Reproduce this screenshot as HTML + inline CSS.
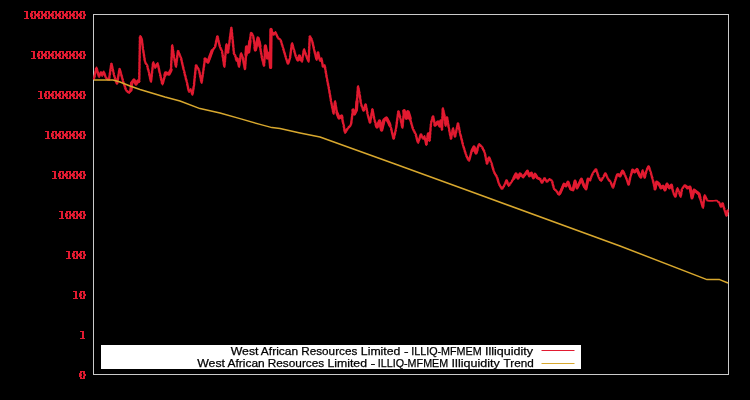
<!DOCTYPE html>
<html><head><meta charset="utf-8"><style>
html,body{margin:0;padding:0;background:#000;}
body{width:750px;height:400px;overflow:hidden;font-family:"Liberation Sans",sans-serif;}
svg{display:block}
</style></head><body>
<svg width="750" height="400" viewBox="0 0 750 400">
<defs>
<filter id="gs" x="0" y="0" width="100%" height="100%" color-interpolation-filters="sRGB"><feColorMatrix type="saturate" values="0"/></filter>
</defs>
<rect width="750" height="400" fill="#000"/>
<rect x="93.5" y="14.5" width="635" height="360" fill="none" stroke="#cacaca" stroke-width="1"/>
<g fill="#e21a30" shape-rendering="crispEdges"><path d="M32,13h1v1h-1zM34,14h1v1h-1zM34,15h1v1h-1zM32,16h1v1h-1zM39,13h1v1h-1zM41,14h1v1h-1zM41,15h1v1h-1zM39,16h1v1h-1zM46,13h1v1h-1zM48,14h1v1h-1zM48,15h1v1h-1zM46,16h1v1h-1zM53,13h1v1h-1zM55,14h1v1h-1zM55,15h1v1h-1zM53,16h1v1h-1zM60,13h1v1h-1zM62,14h1v1h-1zM62,15h1v1h-1zM60,16h1v1h-1zM67,13h1v1h-1zM69,14h1v1h-1zM69,15h1v1h-1zM67,16h1v1h-1zM74,13h1v1h-1zM76,14h1v1h-1zM76,15h1v1h-1zM74,16h1v1h-1zM81,13h1v1h-1zM83,14h1v1h-1zM83,15h1v1h-1zM81,16h1v1h-1zM39,53h1v1h-1zM41,54h1v1h-1zM41,55h1v1h-1zM39,56h1v1h-1zM46,53h1v1h-1zM48,54h1v1h-1zM48,55h1v1h-1zM46,56h1v1h-1zM53,53h1v1h-1zM55,54h1v1h-1zM55,55h1v1h-1zM53,56h1v1h-1zM60,53h1v1h-1zM62,54h1v1h-1zM62,55h1v1h-1zM60,56h1v1h-1zM67,53h1v1h-1zM69,54h1v1h-1zM69,55h1v1h-1zM67,56h1v1h-1zM74,53h1v1h-1zM76,54h1v1h-1zM76,55h1v1h-1zM74,56h1v1h-1zM81,53h1v1h-1zM83,54h1v1h-1zM83,55h1v1h-1zM81,56h1v1h-1zM46,93h1v1h-1zM48,94h1v1h-1zM48,95h1v1h-1zM46,96h1v1h-1zM53,93h1v1h-1zM55,94h1v1h-1zM55,95h1v1h-1zM53,96h1v1h-1zM60,93h1v1h-1zM62,94h1v1h-1zM62,95h1v1h-1zM60,96h1v1h-1zM67,93h1v1h-1zM69,94h1v1h-1zM69,95h1v1h-1zM67,96h1v1h-1zM74,93h1v1h-1zM76,94h1v1h-1zM76,95h1v1h-1zM74,96h1v1h-1zM81,93h1v1h-1zM83,94h1v1h-1zM83,95h1v1h-1zM81,96h1v1h-1zM53,133h1v1h-1zM55,134h1v1h-1zM55,135h1v1h-1zM53,136h1v1h-1zM60,133h1v1h-1zM62,134h1v1h-1zM62,135h1v1h-1zM60,136h1v1h-1zM67,133h1v1h-1zM69,134h1v1h-1zM69,135h1v1h-1zM67,136h1v1h-1zM74,133h1v1h-1zM76,134h1v1h-1zM76,135h1v1h-1zM74,136h1v1h-1zM81,133h1v1h-1zM83,134h1v1h-1zM83,135h1v1h-1zM81,136h1v1h-1zM60,173h1v1h-1zM62,174h1v1h-1zM62,175h1v1h-1zM60,176h1v1h-1zM67,173h1v1h-1zM69,174h1v1h-1zM69,175h1v1h-1zM67,176h1v1h-1zM74,173h1v1h-1zM76,174h1v1h-1zM76,175h1v1h-1zM74,176h1v1h-1zM81,173h1v1h-1zM83,174h1v1h-1zM83,175h1v1h-1zM81,176h1v1h-1zM67,213h1v1h-1zM69,214h1v1h-1zM69,215h1v1h-1zM67,216h1v1h-1zM74,213h1v1h-1zM76,214h1v1h-1zM76,215h1v1h-1zM74,216h1v1h-1zM81,213h1v1h-1zM83,214h1v1h-1zM83,215h1v1h-1zM81,216h1v1h-1zM74,253h1v1h-1zM76,254h1v1h-1zM76,255h1v1h-1zM74,256h1v1h-1zM81,253h1v1h-1zM83,254h1v1h-1zM83,255h1v1h-1zM81,256h1v1h-1zM81,293h1v1h-1zM83,294h1v1h-1zM83,295h1v1h-1zM81,296h1v1h-1zM81,373h1v1h-1zM83,374h1v1h-1zM83,375h1v1h-1zM81,376h1v1h-1z" fill-opacity="0.44"/><path d="M24,11h4v1h-4zM26,12h2v1h-2zM26,13h2v1h-2zM26,14h2v1h-2zM26,15h2v1h-2zM26,16h2v1h-2zM26,17h2v1h-2zM24,18h5v1h-5zM31,11h5v1h-5zM31,12h2v1h-2zM34,12h2v1h-2zM30,13h2v1h-2zM34,13h2v1h-2zM30,14h3v1h-3zM35,14h2v1h-2zM30,15h3v1h-3zM35,15h2v1h-2zM30,16h2v1h-2zM34,16h2v1h-2zM31,17h2v1h-2zM34,17h2v1h-2zM31,18h5v1h-5zM38,11h5v1h-5zM38,12h2v1h-2zM41,12h2v1h-2zM37,13h2v1h-2zM41,13h2v1h-2zM37,14h3v1h-3zM42,14h2v1h-2zM37,15h3v1h-3zM42,15h2v1h-2zM37,16h2v1h-2zM41,16h2v1h-2zM38,17h2v1h-2zM41,17h2v1h-2zM38,18h5v1h-5zM45,11h5v1h-5zM45,12h2v1h-2zM48,12h2v1h-2zM44,13h2v1h-2zM48,13h2v1h-2zM44,14h3v1h-3zM49,14h2v1h-2zM44,15h3v1h-3zM49,15h2v1h-2zM44,16h2v1h-2zM48,16h2v1h-2zM45,17h2v1h-2zM48,17h2v1h-2zM45,18h5v1h-5zM52,11h5v1h-5zM52,12h2v1h-2zM55,12h2v1h-2zM51,13h2v1h-2zM55,13h2v1h-2zM51,14h3v1h-3zM56,14h2v1h-2zM51,15h3v1h-3zM56,15h2v1h-2zM51,16h2v1h-2zM55,16h2v1h-2zM52,17h2v1h-2zM55,17h2v1h-2zM52,18h5v1h-5zM59,11h5v1h-5zM59,12h2v1h-2zM62,12h2v1h-2zM58,13h2v1h-2zM62,13h2v1h-2zM58,14h3v1h-3zM63,14h2v1h-2zM58,15h3v1h-3zM63,15h2v1h-2zM58,16h2v1h-2zM62,16h2v1h-2zM59,17h2v1h-2zM62,17h2v1h-2zM59,18h5v1h-5zM66,11h5v1h-5zM66,12h2v1h-2zM69,12h2v1h-2zM65,13h2v1h-2zM69,13h2v1h-2zM65,14h3v1h-3zM70,14h2v1h-2zM65,15h3v1h-3zM70,15h2v1h-2zM65,16h2v1h-2zM69,16h2v1h-2zM66,17h2v1h-2zM69,17h2v1h-2zM66,18h5v1h-5zM73,11h5v1h-5zM73,12h2v1h-2zM76,12h2v1h-2zM72,13h2v1h-2zM76,13h2v1h-2zM72,14h3v1h-3zM77,14h2v1h-2zM72,15h3v1h-3zM77,15h2v1h-2zM72,16h2v1h-2zM76,16h2v1h-2zM73,17h2v1h-2zM76,17h2v1h-2zM73,18h5v1h-5zM80,11h5v1h-5zM80,12h2v1h-2zM83,12h2v1h-2zM79,13h2v1h-2zM83,13h2v1h-2zM79,14h3v1h-3zM84,14h2v1h-2zM79,15h3v1h-3zM84,15h2v1h-2zM79,16h2v1h-2zM83,16h2v1h-2zM80,17h2v1h-2zM83,17h2v1h-2zM80,18h5v1h-5zM31,51h4v1h-4zM33,52h2v1h-2zM33,53h2v1h-2zM33,54h2v1h-2zM33,55h2v1h-2zM33,56h2v1h-2zM33,57h2v1h-2zM31,58h5v1h-5zM38,51h5v1h-5zM38,52h2v1h-2zM41,52h2v1h-2zM37,53h2v1h-2zM41,53h2v1h-2zM37,54h3v1h-3zM42,54h2v1h-2zM37,55h3v1h-3zM42,55h2v1h-2zM37,56h2v1h-2zM41,56h2v1h-2zM38,57h2v1h-2zM41,57h2v1h-2zM38,58h5v1h-5zM45,51h5v1h-5zM45,52h2v1h-2zM48,52h2v1h-2zM44,53h2v1h-2zM48,53h2v1h-2zM44,54h3v1h-3zM49,54h2v1h-2zM44,55h3v1h-3zM49,55h2v1h-2zM44,56h2v1h-2zM48,56h2v1h-2zM45,57h2v1h-2zM48,57h2v1h-2zM45,58h5v1h-5zM52,51h5v1h-5zM52,52h2v1h-2zM55,52h2v1h-2zM51,53h2v1h-2zM55,53h2v1h-2zM51,54h3v1h-3zM56,54h2v1h-2zM51,55h3v1h-3zM56,55h2v1h-2zM51,56h2v1h-2zM55,56h2v1h-2zM52,57h2v1h-2zM55,57h2v1h-2zM52,58h5v1h-5zM59,51h5v1h-5zM59,52h2v1h-2zM62,52h2v1h-2zM58,53h2v1h-2zM62,53h2v1h-2zM58,54h3v1h-3zM63,54h2v1h-2zM58,55h3v1h-3zM63,55h2v1h-2zM58,56h2v1h-2zM62,56h2v1h-2zM59,57h2v1h-2zM62,57h2v1h-2zM59,58h5v1h-5zM66,51h5v1h-5zM66,52h2v1h-2zM69,52h2v1h-2zM65,53h2v1h-2zM69,53h2v1h-2zM65,54h3v1h-3zM70,54h2v1h-2zM65,55h3v1h-3zM70,55h2v1h-2zM65,56h2v1h-2zM69,56h2v1h-2zM66,57h2v1h-2zM69,57h2v1h-2zM66,58h5v1h-5zM73,51h5v1h-5zM73,52h2v1h-2zM76,52h2v1h-2zM72,53h2v1h-2zM76,53h2v1h-2zM72,54h3v1h-3zM77,54h2v1h-2zM72,55h3v1h-3zM77,55h2v1h-2zM72,56h2v1h-2zM76,56h2v1h-2zM73,57h2v1h-2zM76,57h2v1h-2zM73,58h5v1h-5zM80,51h5v1h-5zM80,52h2v1h-2zM83,52h2v1h-2zM79,53h2v1h-2zM83,53h2v1h-2zM79,54h3v1h-3zM84,54h2v1h-2zM79,55h3v1h-3zM84,55h2v1h-2zM79,56h2v1h-2zM83,56h2v1h-2zM80,57h2v1h-2zM83,57h2v1h-2zM80,58h5v1h-5zM38,91h4v1h-4zM40,92h2v1h-2zM40,93h2v1h-2zM40,94h2v1h-2zM40,95h2v1h-2zM40,96h2v1h-2zM40,97h2v1h-2zM38,98h5v1h-5zM45,91h5v1h-5zM45,92h2v1h-2zM48,92h2v1h-2zM44,93h2v1h-2zM48,93h2v1h-2zM44,94h3v1h-3zM49,94h2v1h-2zM44,95h3v1h-3zM49,95h2v1h-2zM44,96h2v1h-2zM48,96h2v1h-2zM45,97h2v1h-2zM48,97h2v1h-2zM45,98h5v1h-5zM52,91h5v1h-5zM52,92h2v1h-2zM55,92h2v1h-2zM51,93h2v1h-2zM55,93h2v1h-2zM51,94h3v1h-3zM56,94h2v1h-2zM51,95h3v1h-3zM56,95h2v1h-2zM51,96h2v1h-2zM55,96h2v1h-2zM52,97h2v1h-2zM55,97h2v1h-2zM52,98h5v1h-5zM59,91h5v1h-5zM59,92h2v1h-2zM62,92h2v1h-2zM58,93h2v1h-2zM62,93h2v1h-2zM58,94h3v1h-3zM63,94h2v1h-2zM58,95h3v1h-3zM63,95h2v1h-2zM58,96h2v1h-2zM62,96h2v1h-2zM59,97h2v1h-2zM62,97h2v1h-2zM59,98h5v1h-5zM66,91h5v1h-5zM66,92h2v1h-2zM69,92h2v1h-2zM65,93h2v1h-2zM69,93h2v1h-2zM65,94h3v1h-3zM70,94h2v1h-2zM65,95h3v1h-3zM70,95h2v1h-2zM65,96h2v1h-2zM69,96h2v1h-2zM66,97h2v1h-2zM69,97h2v1h-2zM66,98h5v1h-5zM73,91h5v1h-5zM73,92h2v1h-2zM76,92h2v1h-2zM72,93h2v1h-2zM76,93h2v1h-2zM72,94h3v1h-3zM77,94h2v1h-2zM72,95h3v1h-3zM77,95h2v1h-2zM72,96h2v1h-2zM76,96h2v1h-2zM73,97h2v1h-2zM76,97h2v1h-2zM73,98h5v1h-5zM80,91h5v1h-5zM80,92h2v1h-2zM83,92h2v1h-2zM79,93h2v1h-2zM83,93h2v1h-2zM79,94h3v1h-3zM84,94h2v1h-2zM79,95h3v1h-3zM84,95h2v1h-2zM79,96h2v1h-2zM83,96h2v1h-2zM80,97h2v1h-2zM83,97h2v1h-2zM80,98h5v1h-5zM45,131h4v1h-4zM47,132h2v1h-2zM47,133h2v1h-2zM47,134h2v1h-2zM47,135h2v1h-2zM47,136h2v1h-2zM47,137h2v1h-2zM45,138h5v1h-5zM52,131h5v1h-5zM52,132h2v1h-2zM55,132h2v1h-2zM51,133h2v1h-2zM55,133h2v1h-2zM51,134h3v1h-3zM56,134h2v1h-2zM51,135h3v1h-3zM56,135h2v1h-2zM51,136h2v1h-2zM55,136h2v1h-2zM52,137h2v1h-2zM55,137h2v1h-2zM52,138h5v1h-5zM59,131h5v1h-5zM59,132h2v1h-2zM62,132h2v1h-2zM58,133h2v1h-2zM62,133h2v1h-2zM58,134h3v1h-3zM63,134h2v1h-2zM58,135h3v1h-3zM63,135h2v1h-2zM58,136h2v1h-2zM62,136h2v1h-2zM59,137h2v1h-2zM62,137h2v1h-2zM59,138h5v1h-5zM66,131h5v1h-5zM66,132h2v1h-2zM69,132h2v1h-2zM65,133h2v1h-2zM69,133h2v1h-2zM65,134h3v1h-3zM70,134h2v1h-2zM65,135h3v1h-3zM70,135h2v1h-2zM65,136h2v1h-2zM69,136h2v1h-2zM66,137h2v1h-2zM69,137h2v1h-2zM66,138h5v1h-5zM73,131h5v1h-5zM73,132h2v1h-2zM76,132h2v1h-2zM72,133h2v1h-2zM76,133h2v1h-2zM72,134h3v1h-3zM77,134h2v1h-2zM72,135h3v1h-3zM77,135h2v1h-2zM72,136h2v1h-2zM76,136h2v1h-2zM73,137h2v1h-2zM76,137h2v1h-2zM73,138h5v1h-5zM80,131h5v1h-5zM80,132h2v1h-2zM83,132h2v1h-2zM79,133h2v1h-2zM83,133h2v1h-2zM79,134h3v1h-3zM84,134h2v1h-2zM79,135h3v1h-3zM84,135h2v1h-2zM79,136h2v1h-2zM83,136h2v1h-2zM80,137h2v1h-2zM83,137h2v1h-2zM80,138h5v1h-5zM52,171h4v1h-4zM54,172h2v1h-2zM54,173h2v1h-2zM54,174h2v1h-2zM54,175h2v1h-2zM54,176h2v1h-2zM54,177h2v1h-2zM52,178h5v1h-5zM59,171h5v1h-5zM59,172h2v1h-2zM62,172h2v1h-2zM58,173h2v1h-2zM62,173h2v1h-2zM58,174h3v1h-3zM63,174h2v1h-2zM58,175h3v1h-3zM63,175h2v1h-2zM58,176h2v1h-2zM62,176h2v1h-2zM59,177h2v1h-2zM62,177h2v1h-2zM59,178h5v1h-5zM66,171h5v1h-5zM66,172h2v1h-2zM69,172h2v1h-2zM65,173h2v1h-2zM69,173h2v1h-2zM65,174h3v1h-3zM70,174h2v1h-2zM65,175h3v1h-3zM70,175h2v1h-2zM65,176h2v1h-2zM69,176h2v1h-2zM66,177h2v1h-2zM69,177h2v1h-2zM66,178h5v1h-5zM73,171h5v1h-5zM73,172h2v1h-2zM76,172h2v1h-2zM72,173h2v1h-2zM76,173h2v1h-2zM72,174h3v1h-3zM77,174h2v1h-2zM72,175h3v1h-3zM77,175h2v1h-2zM72,176h2v1h-2zM76,176h2v1h-2zM73,177h2v1h-2zM76,177h2v1h-2zM73,178h5v1h-5zM80,171h5v1h-5zM80,172h2v1h-2zM83,172h2v1h-2zM79,173h2v1h-2zM83,173h2v1h-2zM79,174h3v1h-3zM84,174h2v1h-2zM79,175h3v1h-3zM84,175h2v1h-2zM79,176h2v1h-2zM83,176h2v1h-2zM80,177h2v1h-2zM83,177h2v1h-2zM80,178h5v1h-5zM59,211h4v1h-4zM61,212h2v1h-2zM61,213h2v1h-2zM61,214h2v1h-2zM61,215h2v1h-2zM61,216h2v1h-2zM61,217h2v1h-2zM59,218h5v1h-5zM66,211h5v1h-5zM66,212h2v1h-2zM69,212h2v1h-2zM65,213h2v1h-2zM69,213h2v1h-2zM65,214h3v1h-3zM70,214h2v1h-2zM65,215h3v1h-3zM70,215h2v1h-2zM65,216h2v1h-2zM69,216h2v1h-2zM66,217h2v1h-2zM69,217h2v1h-2zM66,218h5v1h-5zM73,211h5v1h-5zM73,212h2v1h-2zM76,212h2v1h-2zM72,213h2v1h-2zM76,213h2v1h-2zM72,214h3v1h-3zM77,214h2v1h-2zM72,215h3v1h-3zM77,215h2v1h-2zM72,216h2v1h-2zM76,216h2v1h-2zM73,217h2v1h-2zM76,217h2v1h-2zM73,218h5v1h-5zM80,211h5v1h-5zM80,212h2v1h-2zM83,212h2v1h-2zM79,213h2v1h-2zM83,213h2v1h-2zM79,214h3v1h-3zM84,214h2v1h-2zM79,215h3v1h-3zM84,215h2v1h-2zM79,216h2v1h-2zM83,216h2v1h-2zM80,217h2v1h-2zM83,217h2v1h-2zM80,218h5v1h-5zM66,251h4v1h-4zM68,252h2v1h-2zM68,253h2v1h-2zM68,254h2v1h-2zM68,255h2v1h-2zM68,256h2v1h-2zM68,257h2v1h-2zM66,258h5v1h-5zM73,251h5v1h-5zM73,252h2v1h-2zM76,252h2v1h-2zM72,253h2v1h-2zM76,253h2v1h-2zM72,254h3v1h-3zM77,254h2v1h-2zM72,255h3v1h-3zM77,255h2v1h-2zM72,256h2v1h-2zM76,256h2v1h-2zM73,257h2v1h-2zM76,257h2v1h-2zM73,258h5v1h-5zM80,251h5v1h-5zM80,252h2v1h-2zM83,252h2v1h-2zM79,253h2v1h-2zM83,253h2v1h-2zM79,254h3v1h-3zM84,254h2v1h-2zM79,255h3v1h-3zM84,255h2v1h-2zM79,256h2v1h-2zM83,256h2v1h-2zM80,257h2v1h-2zM83,257h2v1h-2zM80,258h5v1h-5zM73,291h4v1h-4zM75,292h2v1h-2zM75,293h2v1h-2zM75,294h2v1h-2zM75,295h2v1h-2zM75,296h2v1h-2zM75,297h2v1h-2zM73,298h5v1h-5zM80,291h5v1h-5zM80,292h2v1h-2zM83,292h2v1h-2zM79,293h2v1h-2zM83,293h2v1h-2zM79,294h3v1h-3zM84,294h2v1h-2zM79,295h3v1h-3zM84,295h2v1h-2zM79,296h2v1h-2zM83,296h2v1h-2zM80,297h2v1h-2zM83,297h2v1h-2zM80,298h5v1h-5zM80,331h4v1h-4zM82,332h2v1h-2zM82,333h2v1h-2zM82,334h2v1h-2zM82,335h2v1h-2zM82,336h2v1h-2zM82,337h2v1h-2zM80,338h5v1h-5zM80,371h5v1h-5zM80,372h2v1h-2zM83,372h2v1h-2zM79,373h2v1h-2zM83,373h2v1h-2zM79,374h3v1h-3zM84,374h2v1h-2zM79,375h3v1h-3zM84,375h2v1h-2zM79,376h2v1h-2zM83,376h2v1h-2zM80,377h2v1h-2zM83,377h2v1h-2zM80,378h5v1h-5z" fill-opacity="1.00"/></g>
<path d="M94.13,79.03 L93.7,78.23 L94.72,77.73 L93.98,76.86 L95.01,76.36 L94.27,75.5 L95.29,75 L94.55,74.13 L95.57,73.63 L94.83,72.77 L95.85,72.27 L95.11,71.4 L96.13,70.9 L95.39,70.04 L96.42,69.54 L95.68,68.67 L96.7,68.17 L96.53,67.36 L96.14,68.16 L97.18,68.56 L96.49,69.44 L97.53,69.84 L96.83,70.72 L97.87,71.12 L97.18,72 L98.22,72.4 L97.53,73.28 L98.57,73.68 L97.87,74.56 L98.91,74.96 L98.22,75.84 L99.26,76.24 L99.13,77.05 L98.83,76.21 L99.92,75.92 L99.33,74.96 L100.42,74.67 L99.83,73.71 L100.92,73.42 L100.33,72.46 L100.87,72.03 L101.6,72.56 L100.9,73.44 L101.94,73.89 L101.23,74.78 L102.27,75.22 L102.13,76.04 L101.8,75.2 L102.88,74.83 L102.26,73.88 L103.34,73.52 L102.72,72.57 L103.8,72.2 L103.73,71.35 L103.4,72.15 L104.46,72.45 L103.83,73.35 L104.9,73.65 L104.27,74.55 L105.33,74.85 L104.7,75.75 L105.77,76.05 L105.14,76.95 L106.2,77.25 L105.93,78.11 L106.75,77.96 L106.75,79.04 L107.75,78.63 L107.75,79.71 L108.75,79.29 L109.13,80.02 L108.65,79.24 L109.65,78.68 L108.85,77.86 L109.85,77.3 L109.05,76.48 L110.05,75.91 L109.25,75.09 L110.25,74.53 L109.45,73.71 L110.45,73.15 L109.65,72.33 L110.65,71.76 L109.85,70.94 L110.85,70.38 L110.05,69.56 L111.05,69 L110.25,68.18 L111.25,67.61 L110.45,66.79 L111.45,66.23 L110.65,65.41 L111.65,64.85 L110.85,64.03 L111.27,63.43 L111.99,63.98 L111.27,64.86 L112.3,65.35 L111.57,66.23 L112.6,66.71 L111.88,67.59 L112.91,68.08 L112.18,68.96 L113.22,69.44 L112.49,70.32 L113.52,70.81 L112.8,71.69 L113.83,72.17 L113.1,73.05 L114.13,73.54 L113.41,74.42 L114.13,74.96 L113.79,75.79 L114.86,76.14 L114.22,77.07 L115.28,77.43 L114.64,78.36 L115.71,78.71 L115.07,79.64 L116.14,80 L115.5,80.93 L116.57,81.29 L115.93,82.21 L117,82.57 L116.36,83.5 L116.87,83.98 L117.56,83.41 L116.78,82.59 L117.78,82.07 L117.01,81.25 L118.01,80.73 L117.23,79.91 L118.24,79.39 L117.46,78.57 L118.46,78.05 L117.69,77.23 L118.69,76.71 L117.91,75.89 L118.91,75.37 L118.14,74.55 L119.14,74.03 L118.36,73.21 L119.37,72.69 L118.59,71.87 L119.59,71.35 L118.82,70.53 L119.82,70.01 L119.04,69.19 L119.47,68.64 L120.21,69.13 L119.52,70.02 L120.57,70.44 L119.88,71.33 L120.93,71.74 L120.24,72.63 L121.29,73.05 L120.6,73.94 L121.64,74.35 L120.96,75.25 L122,75.66 L121.31,76.55 L122.36,76.97 L121.67,77.86 L122.72,78.27 L122.03,79.16 L123.08,79.58 L122.39,80.47 L123.13,80.96 L122.79,81.79 L123.86,82.14 L123.22,83.07 L124.28,83.43 L123.64,84.36 L124.71,84.71 L124.07,85.64 L125.14,86 L124.5,86.93 L125.57,87.29 L124.93,88.21 L126,88.57 L125.36,89.5 L126.1,89.9 L126.11,90.75 L127.18,90.54 L126.97,91.6 L128.03,91.4 L127.82,92.46 L128.89,92.25 L129.11,93.07 L128.96,92.25 L130.04,92.25 L129.63,91.25 L130.71,91.25 L130.29,90.25 L131.13,90.01 L130.61,89.33 L131.56,88.77 L130.72,88.05 L131.67,87.49 L130.82,86.78 L131.78,86.22 L130.93,85.51 L131.88,84.95 L131.04,84.23 L131.99,83.67 L131.49,82.92 L132.35,82.78 L132.05,81.72 L133.15,81.78 L132.85,80.72 L133.95,80.78 L134.12,79.94 L133.88,80.77 L134.97,80.94 L134.45,81.92 L135.55,82.08 L135.03,83.06 L136.12,83.23 L136.11,84.07 L135.96,83.25 L137.04,83.25 L136.63,82.25 L137.71,82.25 L137.29,81.25 L137.91,81.1 L138.69,80.99 L138.51,82.01 L139.07,82 L139.66,81.31 L138.77,80.6 L139.69,79.92 L138.8,79.2 L139.71,78.52 L138.82,77.81 L139.73,77.13 L138.85,76.42 L139.76,75.74 L138.87,75.02 L139.78,74.34 L138.9,73.63 L139.81,72.95 L138.92,72.23 L139.83,71.55 L138.94,70.84 L139.86,70.16 L138.97,69.45 L139.88,68.77 L138.99,68.05 L139.9,67.37 L139.02,66.66 L139.93,65.98 L139.04,65.26 L139.95,64.58 L139.07,63.87 L139.98,63.19 L139.09,62.48 L140,61.8 L139.11,61.08 L140.03,60.4 L139.14,59.69 L140.05,59.01 L139.16,58.3 L140.07,57.61 L139.19,56.9 L140.1,56.22 L139.21,55.51 L140.12,54.83 L139.23,54.11 L140.15,53.43 L139.26,52.72 L140.17,52.04 L139.28,51.33 L140.2,50.64 L139.31,49.93 L140.22,49.25 L139.33,48.54 L140.24,47.86 L139.36,47.14 L140.27,46.46 L139.38,45.75 L140.29,45.07 L139.4,44.36 L140.32,43.67 L139.43,42.96 L140.34,42.28 L139.45,41.57 L140.37,40.89 L139.48,40.17 L140.39,39.49 L139.5,38.78 L140.41,38.1 L139.53,37.39 L140.44,36.7 L140.11,35.92 L140.05,36.78 L141.15,36.72 L140.85,37.78 L141.73,37.98 L141.24,38.74 L142.22,39.32 L141.42,40.12 L142.4,40.69 L141.59,41.49 L142.57,42.07 L141.77,42.87 L142.75,43.44 L141.94,44.24 L142.92,44.82 L142.12,45.62 L143.1,46.19 L142.29,46.99 L143.27,47.57 L142.47,48.37 L143.13,48.98 L142.66,49.75 L143.66,50.3 L142.87,51.12 L143.87,51.67 L143.08,52.49 L144.08,53.04 L143.29,53.86 L144.29,54.41 L143.5,55.23 L144.5,55.77 L143.71,56.59 L144.71,57.14 L143.92,57.96 L144.92,58.51 L144.13,59.33 L145.13,59.88 L144.34,60.7 L145.34,61.25 L144.89,62.07 L145.71,62.25 L145.29,63.25 L146.37,63.25 L145.96,64.25 L147.04,64.25 L146.87,65.03 L147.6,65.56 L146.9,66.44 L147.94,66.89 L147.23,67.78 L148.27,68.22 L147.56,69.11 L148.6,69.56 L147.9,70.44 L148.94,70.89 L148.23,71.78 L149.27,72.22 L148.87,73.03 L149.58,73.55 L148.85,74.38 L149.87,74.83 L149.13,75.67 L150.15,76.12 L149.42,76.95 L150.44,77.4 L149.7,78.24 L150.72,78.69 L149.99,79.53 L151.01,79.97 L150.28,80.81 L151.3,81.26 L151.13,82.01 L150.63,81.26 L151.6,80.67 L150.78,79.88 L151.75,79.29 L150.93,78.5 L151.9,77.91 L151.08,77.12 L152.05,76.53 L151.24,75.74 L152.21,75.15 L151.39,74.36 L152.36,73.77 L151.54,72.99 L152.51,72.39 L151.69,71.61 L152.66,71.01 L151.84,70.23 L152.81,69.64 L151.99,68.85 L152.96,68.26 L152.15,67.47 L153.12,66.88 L152.3,66.09 L153.27,65.5 L152.45,64.71 L153.42,64.12 L152.6,63.33 L153.57,62.74 L153.33,61.96 L152.97,62.8 L154.03,63.2 L153.37,64.13 L154.43,64.54 L153.77,65.46 L154.83,65.87 L154.17,66.8 L155.23,67.2 L155.12,68.06 L154.89,67.24 L155.98,67.1 L155.47,66.13 L156.55,65.99 L156.05,65.01 L157.13,64.87 L156.62,63.9 L157.71,63.76 L157.73,62.97 L157.3,63.74 L158.32,64.2 L157.58,65.04 L158.6,65.49 L157.87,66.33 L158.89,66.79 L158.15,67.63 L159.17,68.08 L158.43,68.92 L159.45,69.37 L158.71,70.21 L159.73,70.67 L159,71.51 L160.02,71.96 L159.28,72.8 L160.3,73.26 L159.87,74.03 L160.59,74.56 L159.86,75.42 L160.89,75.89 L160.16,76.75 L161.19,77.21 L160.46,78.07 L161.49,78.54 L160.76,79.4 L161.79,79.86 L161.06,80.72 L162.09,81.19 L161.36,82.05 L162.39,82.51 L161.66,83.37 L162.69,83.84 L162.53,84.64 L162.14,83.84 L163.19,83.43 L162.5,82.55 L163.54,82.14 L162.86,81.26 L163.9,80.85 L163.21,79.97 L164.26,79.56 L163.57,78.68 L164.61,78.28 L163.92,77.39 L164.97,76.99 L164.28,76.1 L165.32,75.7 L164.63,74.81 L165.68,74.41 L164.99,73.52 L165.56,73.13 L166.29,72.73 L166.61,73.77 L167.43,73.07 L167.74,74.1 L168.56,73.4 L169.12,74.06 L168.88,73.23 L169.97,73.06 L169.45,72.08 L170.55,71.92 L170.03,70.94 L171.12,70.77 L170.87,69.99 L171.48,69.33 L170.62,68.59 L171.55,67.94 L170.68,67.2 L171.62,66.55 L170.75,65.81 L171.68,65.16 L170.82,64.42 L171.75,63.77 L170.88,63.03 L171.82,62.38 L170.95,61.65 L171.88,60.99 L171.02,60.26 L171.95,59.6 L171.08,58.87 L172.02,58.22 L171.15,57.48 L172.08,56.83 L171.22,56.09 L172.15,55.44 L171.28,54.7 L172.22,54.05 L171.35,53.31 L172.28,52.66 L171.42,51.92 L172.35,51.27 L171.48,50.53 L172.42,49.88 L171.55,49.15 L172.48,48.49 L171.62,47.76 L172.55,47.1 L171.68,46.37 L172.62,45.72 L172.33,44.98 L171.85,45.73 L172.85,46.27 L172.05,47.07 L173.05,47.6 L172.25,48.4 L173.25,48.93 L172.45,49.73 L173.45,50.27 L172.65,51.07 L173.65,51.6 L172.85,52.4 L173.85,52.93 L173.05,53.73 L174.05,54.27 L173.25,55.07 L174.25,55.6 L173.45,56.4 L174.13,56.97 L173.69,57.75 L174.71,58.25 L173.96,59.09 L174.97,59.58 L174.23,60.42 L175.24,60.91 L174.49,61.75 L175.51,62.25 L174.76,63.09 L175.77,63.58 L175.03,64.42 L176.04,64.91 L175.29,65.75 L176.31,66.25 L176.13,67.02 L175.64,66.26 L176.61,65.69 L175.8,64.9 L176.78,64.32 L175.97,63.53 L176.95,62.95 L176.14,62.16 L177.11,61.59 L176.3,60.8 L177.28,60.22 L176.47,59.43 L177.45,58.85 L176.64,58.06 L177.61,57.49 L176.8,56.7 L177.78,56.12 L176.97,55.33 L177.95,54.75 L177.14,53.96 L178.11,53.39 L177.3,52.6 L178.28,52.02 L177.47,51.23 L177.87,50.65 L178.67,51.05 L178.08,52 L179.17,52.28 L178.58,53.24 L179.67,53.51 L179.08,54.47 L180.17,54.75 L179.58,55.7 L180.67,55.98 L180.08,56.94 L181.17,57.21 L180.87,58.03 L181.59,58.55 L180.86,59.4 L181.89,59.85 L181.16,60.7 L182.19,61.15 L181.46,62 L182.49,62.45 L181.76,63.3 L182.79,63.75 L182.06,64.6 L183.09,65.05 L182.36,65.9 L183.39,66.35 L182.66,67.2 L183.69,67.65 L182.96,68.5 L183.99,68.95 L183.26,69.8 L184.29,70.25 L183.87,71.03 L184.6,71.56 L183.9,72.44 L184.94,72.89 L184.23,73.78 L185.27,74.22 L184.56,75.11 L185.6,75.56 L184.9,76.44 L185.94,76.89 L185.23,77.78 L186.27,78.22 L185.56,79.11 L186.6,79.56 L185.9,80.44 L186.94,80.89 L186.23,81.78 L187.27,82.22 L186.87,83.03 L187.58,83.55 L186.85,84.38 L187.87,84.83 L187.13,85.67 L188.15,86.12 L187.42,86.95 L188.44,87.4 L187.7,88.24 L188.72,88.69 L187.99,89.53 L189.01,89.97 L188.28,90.81 L189.3,91.26 L189.12,92.06 L188.92,91.19 L190.04,91.01 L189.56,89.99 L190.68,89.81 L190.73,88.96 L190.37,89.8 L191.43,90.2 L190.77,91.13 L191.83,91.54 L191.17,92.46 L192.23,92.87 L191.57,93.8 L192.63,94.2 L192.53,95.02 L192.06,94.26 L193.06,93.74 L192.28,92.93 L193.27,92.4 L192.49,91.6 L193.48,91.07 L192.7,90.26 L193.7,89.74 L192.92,88.93 L193.91,88.4 L193.13,87.6 L194.12,87.07 L193.34,86.26 L194.34,85.74 L193.87,84.99 L194.52,84.36 L193.69,83.58 L194.65,82.98 L193.83,82.2 L194.79,81.6 L193.97,80.82 L194.93,80.22 L194.1,79.44 L195.07,78.84 L194.24,78.06 L195.21,77.46 L194.38,76.68 L195.34,76.08 L194.52,75.3 L195.48,74.7 L194.66,73.92 L195.62,73.32 L194.79,72.54 L195.76,71.94 L194.93,71.16 L195.9,70.56 L195.07,69.78 L196.03,69.18 L195.21,68.4 L196.17,67.8 L195.35,67.02 L196.31,66.42 L195.48,65.64 L195.88,65.07 L196.72,65.32 L196.28,66.34 L197.39,66.44 L196.95,67.45 L198.05,67.55 L197.61,68.56 L198.72,68.66 L198.28,69.68 L199.13,69.97 L198.7,70.77 L199.71,71.28 L198.97,72.14 L199.99,72.65 L199.24,73.51 L200.26,74.02 L199.52,74.88 L200.54,75.39 L199.79,76.25 L200.81,76.75 L200.06,77.61 L201.08,78.12 L200.34,78.98 L201.36,79.49 L200.61,80.35 L201.63,80.86 L200.89,81.72 L201.9,82.23 L201.73,83.02 L201.25,82.25 L202.24,81.69 L201.45,80.88 L202.43,80.32 L201.64,79.51 L202.63,78.95 L201.83,78.14 L202.82,77.58 L202.03,76.77 L203.02,76.21 L202.22,75.39 L203.21,74.83 L202.42,74.02 L203.41,73.46 L202.61,72.65 L203.6,72.09 L202.81,71.28 L203.79,70.72 L203,69.91 L203.99,69.35 L203.19,68.54 L204.18,67.98 L203.39,67.17 L204.38,66.61 L203.58,65.79 L204.57,65.23 L203.78,64.42 L204.77,63.86 L203.97,63.05 L204.96,62.49 L204.17,61.68 L205.15,61.12 L204.36,60.31 L205.35,59.75 L205.1,58.9 L205.11,59.75 L206.18,59.54 L205.97,60.6 L207.03,60.4 L206.82,61.46 L207.89,61.25 L208.13,62.05 L207.81,61.2 L208.89,60.86 L208.28,59.91 L209.36,59.57 L208.75,58.61 L209.83,58.27 L209.22,57.32 L210.31,56.98 L209.69,56.02 L210.78,55.68 L210.17,54.73 L211.25,54.39 L210.64,53.43 L211.72,53.09 L211.11,52.14 L212.19,51.8 L211.89,50.92 L212.74,50.77 L212.39,49.73 L213.49,49.77 L213.14,48.73 L214.24,48.77 L213.89,47.73 L214.99,47.77 L214.87,46.97 L215.58,46.45 L214.84,45.61 L215.86,45.15 L215.13,44.32 L216.15,43.86 L215.41,43.02 L216.43,42.57 L215.69,41.73 L216.71,41.27 L215.97,40.43 L216.99,39.98 L216.25,39.14 L217.27,38.68 L216.54,37.85 L217.56,37.39 L216.82,36.55 L217.27,36.03 L217.99,36.54 L217.27,37.4 L218.3,37.84 L217.57,38.69 L218.6,39.13 L217.88,39.99 L218.91,40.43 L218.19,41.28 L219.21,41.72 L218.49,42.57 L219.52,43.01 L218.8,43.87 L219.83,44.31 L219.1,45.16 L220.13,45.6 L219.41,46.46 L220.12,46.94 L219.88,47.77 L220.97,47.94 L220.45,48.92 L221.55,49.08 L221.03,50.06 L222.12,50.23 L221.87,51.02 L222.55,51.6 L221.75,52.4 L222.75,52.93 L221.95,53.73 L222.95,54.27 L222.15,55.07 L223.15,55.6 L222.35,56.4 L223.35,56.93 L222.55,57.73 L223.55,58.27 L222.75,59.07 L223.75,59.6 L222.95,60.4 L223.95,60.93 L223.15,61.73 L224.15,62.27 L223.35,63.07 L224.35,63.6 L223.55,64.4 L224.55,64.93 L223.75,65.73 L224.75,66.27 L224.53,67.01 L224.01,66.26 L224.97,65.65 L224.13,64.87 L225.09,64.25 L224.25,63.48 L225.21,62.86 L224.38,62.08 L225.33,61.46 L224.5,60.69 L225.45,60.07 L224.62,59.29 L225.58,58.68 L224.74,57.9 L225.7,57.28 L224.86,56.51 L225.82,55.89 L224.98,55.11 L225.94,54.49 L225.1,53.72 L226.06,53.1 L225.22,52.32 L226.18,51.71 L225.35,50.93 L226.3,50.31 L225.47,49.54 L226.42,48.92 L225.59,48.14 L226.55,47.52 L225.71,46.75 L226.67,46.13 L225.83,45.35 L226.79,44.74 L226.53,43.98 L226.07,44.72 L227.07,45.21 L226.3,46.01 L227.3,46.49 L226.53,47.29 L227.53,47.78 L226.76,48.58 L227.76,49.06 L226.99,49.86 L227.99,50.35 L227.21,51.15 L228.21,51.64 L227.44,52.44 L227.87,52.98 L228.54,52.37 L227.74,51.56 L228.72,50.98 L227.92,50.17 L228.91,49.6 L228.11,48.79 L229.09,48.22 L228.29,47.41 L229.27,46.83 L228.47,46.02 L229.46,45.45 L228.66,44.64 L229.64,44.06 L228.84,43.25 L229.82,42.68 L229.02,41.87 L230.01,41.3 L229.21,40.49 L230.19,39.91 L229.39,39.1 L230.38,38.53 L229.58,37.72 L230.56,37.15 L229.76,36.34 L230.74,35.76 L229.94,34.95 L230.93,34.38 L230.13,33.57 L231.11,32.99 L230.31,32.18 L231.29,31.61 L230.49,30.8 L231.48,30.23 L230.68,29.42 L231.66,28.84 L230.86,28.03 L231.27,27.41 L231.91,28.04 L231.09,28.81 L232.05,29.4 L231.22,30.17 L232.18,30.77 L231.35,31.54 L232.31,32.13 L231.49,32.9 L232.45,33.49 L231.62,34.26 L232.58,34.86 L231.75,35.63 L232.71,36.22 L231.89,36.99 L232.85,37.59 L232.02,38.36 L232.98,38.95 L232.15,39.72 L233.11,40.32 L232.29,41.08 L233.25,41.68 L232.42,42.45 L233.38,43.04 L232.55,43.81 L233.51,44.41 L232.69,45.18 L233.65,45.77 L232.82,46.54 L233.78,47.14 L232.95,47.91 L233.91,48.5 L233.09,49.27 L234.05,49.86 L233.22,50.63 L234.18,51.23 L233.35,52 L234.31,52.59 L233.49,53.36 L234.1,53.9 L234.02,54.65 L234.98,54.35 L234.87,55.03 L235.61,55.55 L234.92,56.45 L235.97,56.88 L235.28,57.78 L236.32,58.22 L235.63,59.12 L236.68,59.55 L235.99,60.45 L236.47,60.97 L237.19,60.52 L236.49,59.68 L237.51,59.32 L236.81,58.48 L237.27,58.02 L237.96,58.56 L237.19,59.36 L238.19,59.85 L237.41,60.65 L238.41,61.14 L237.64,61.94 L238.64,62.42 L237.87,63.22 L238.87,63.71 L238.1,64.51 L239.1,64.99 L238.33,65.79 L239.33,66.28 L239.13,67.02 L238.65,66.27 L239.64,65.73 L238.84,64.94 L239.83,64.4 L239.03,63.6 L240.02,63.06 L239.22,62.27 L240.21,61.73 L239.41,60.94 L240.4,60.4 L239.6,59.6 L240.59,59.06 L239.79,58.27 L240.78,57.73 L239.98,56.94 L240.97,56.4 L240.17,55.6 L241.16,55.06 L240.36,54.27 L241.35,53.73 L241.13,52.95 L240.81,53.74 L241.87,53.98 L241.27,54.88 L242.33,55.12 L241.73,56.02 L242.79,56.26 L242.47,57.03 L243.17,57.57 L242.41,58.39 L243.42,58.87 L242.66,59.7 L243.67,60.18 L242.92,61 L243.93,61.48 L243.17,62.31 L244.18,62.79 L243.42,63.61 L244.43,64.09 L243.67,64.92 L244.68,65.4 L243.93,66.22 L244.94,66.7 L244.18,67.53 L245.19,68.01 L244.43,68.83 L244.87,69.39 L245.5,68.75 L244.65,68.01 L245.59,67.4 L244.75,66.65 L245.69,66.04 L244.84,65.3 L245.79,64.68 L244.94,63.94 L245.89,63.32 L245.04,62.58 L245.98,61.97 L245.13,61.22 L246.08,60.61 L245.23,59.86 L246.18,59.25 L245.33,58.51 L246.27,57.89 L245.42,57.15 L246.37,56.54 L245.52,55.79 L246.47,55.18 L245.62,54.43 L246.56,53.82 L245.71,53.08 L246.66,52.46 L245.81,51.72 L246.76,51.1 L245.91,50.36 L246.85,49.75 L246.01,49 L246.95,48.39 L246.1,47.65 L246.47,47.05 L247.27,47.46 L246.68,48.42 L247.77,48.71 L247.18,49.67 L248.27,49.96 L247.68,50.92 L248.77,51.21 L248.73,52.02 L248.24,51.25 L249.22,50.67 L248.41,49.87 L249.39,49.28 L248.58,48.48 L249.56,47.9 L248.75,47.09 L249.73,46.51 L248.92,45.71 L249.9,45.13 L249.1,44.32 L250.08,43.74 L249.27,42.94 L250.25,42.36 L249.44,41.55 L250.42,40.97 L249.61,40.17 L250.59,39.58 L249.78,38.78 L250.76,38.2 L249.95,37.39 L250.93,36.81 L250.12,36.01 L251.1,35.43 L250.3,34.62 L251.28,34.04 L250.47,33.24 L250.9,32.69 L251.75,32.79 L251.45,33.85 L252.55,33.75 L252.25,34.81 L253.13,34.98 L252.66,35.75 L253.66,36.29 L252.88,37.12 L253.88,37.66 L253.1,38.48 L254.1,39.02 L253.32,39.84 L254.32,40.38 L253.54,41.21 L254.54,41.75 L253.76,42.57 L254.75,43.11 L253.97,43.93 L254.97,44.47 L254.19,45.3 L255.19,45.84 L254.41,46.66 L255.41,47.2 L254.63,48.03 L255.63,48.57 L254.85,49.39 L255.27,49.97 L255.98,49.43 L255.25,48.57 L256.27,48.1 L255.54,47.24 L256.56,46.76 L255.83,45.9 L256.85,45.43 L256.12,44.57 L257.14,44.1 L256.4,43.24 L257.43,42.76 L256.69,41.9 L257.72,41.43 L256.98,40.57 L258.01,40.1 L257.27,39.24 L258.3,38.76 L258.13,37.96 L257.74,38.75 L258.78,39.13 L258.09,40 L259.13,40.38 L258.44,41.25 L259.48,41.63 L258.79,42.5 L259.53,42.98 L259.07,43.76 L260.08,44.29 L259.31,45.12 L260.32,45.65 L259.55,46.49 L260.55,47.01 L259.78,47.85 L260.79,48.38 L260.02,49.21 L261.03,49.74 L260.26,50.58 L261.26,51.1 L260.49,51.94 L261.5,52.47 L260.73,53.3 L261.73,53.83 L260.97,54.67 L261.97,55.2 L261.2,56.03 L262.21,56.56 L261.44,57.4 L262.13,57.97 L261.73,58.78 L262.77,59.22 L262.06,60.11 L263.1,60.56 L262.4,61.44 L263.44,61.89 L262.73,62.78 L263.77,63.22 L263.06,64.11 L264.1,64.56 L263.4,65.44 L263.87,65.99 L264.5,65.34 L263.65,64.59 L264.59,63.96 L263.74,63.21 L264.69,62.58 L263.84,61.83 L264.79,61.2 L263.94,60.45 L264.88,59.82 L264.03,59.07 L264.98,58.45 L264.13,57.69 L265.08,57.07 L264.23,56.31 L265.17,55.69 L264.32,54.93 L265.27,54.31 L264.42,53.55 L265.37,52.93 L264.52,52.18 L265.46,51.55 L264.61,50.8 L265.56,50.17 L264.71,49.42 L265.66,48.79 L264.81,48.04 L265.75,47.41 L264.9,46.66 L265.27,46.02 L265.95,46.59 L265.18,47.41 L266.18,47.93 L265.4,48.74 L266.4,49.26 L265.62,50.07 L266.62,50.59 L265.85,51.41 L266.84,51.93 L266.07,52.74 L267.07,53.26 L266.29,54.07 L267.29,54.59 L266.51,55.41 L267.51,55.93 L266.73,56.74 L267.73,57.26 L267.53,58.05 L267.23,57.21 L268.32,56.92 L267.73,55.96 L268.82,55.67 L268.23,54.71 L269.32,54.42 L268.73,53.46 L269.27,53.01 L269.91,53.65 L269.07,54.41 L270.02,55.02 L269.18,55.78 L270.13,56.39 L269.29,57.15 L270.25,57.76 L269.41,58.52 L270.36,59.13 L269.52,59.89 L270.48,60.51 L269.64,61.27 L270.59,61.88 L269.75,62.64 L270.71,63.25 L269.87,64.01 L270.82,64.62 L269.98,65.38 L270.93,65.99 L270.09,66.75 L270.47,67.4 L271.06,66.71 L270.16,66.01 L271.07,65.33 L270.18,64.63 L271.09,63.95 L270.19,63.25 L271.1,62.57 L270.21,61.87 L271.12,61.19 L270.22,60.49 L271.13,59.8 L270.24,59.1 L271.14,58.42 L270.25,57.72 L271.16,57.04 L270.27,56.34 L271.17,55.66 L270.28,54.96 L271.19,54.28 L270.3,53.58 L271.2,52.9 L270.31,52.2 L271.22,51.51 L270.32,50.81 L271.23,50.13 L270.34,49.43 L271.25,48.75 L270.35,48.05 L271.26,47.37 L270.37,46.67 L271.28,45.99 L270.38,45.29 L271.29,44.6 L270.4,43.9 L271.3,43.22 L270.41,42.52 L271.32,41.84 L270.43,41.14 L271.33,40.46 L270.44,39.76 L271.35,39.08 L270.46,38.38 L271.36,37.7 L270.47,37 L271.38,36.31 L270.48,35.61 L271.39,34.93 L270.5,34.23 L271.41,33.55 L270.51,32.85 L271.42,32.17 L270.53,31.47 L271.44,30.79 L270.54,30.09 L270.88,29.45 L271.68,29.84 L271.12,30.82 L272.21,31.09 L271.65,32.07 L272.75,32.33 L272.19,33.31 L273.28,33.58 L272.72,34.56 L273.29,34.93 L274.11,34.75 L273.69,33.75 L274.77,33.75 L274.36,32.75 L275.44,32.75 L275.52,31.95 L275.25,32.78 L276.33,33.02 L275.77,33.98 L276.85,34.22 L276.29,35.18 L277.37,35.42 L276.81,36.38 L277.89,36.62 L277.33,37.58 L278.08,37.89 L278.25,38.76 L279.31,38.44 L279.29,39.56 L280.35,39.24 L280.47,40.04 L281.23,40.54 L280.57,41.46 L281.63,41.87 L280.97,42.8 L282.03,43.2 L281.37,44.13 L282.43,44.54 L281.77,45.46 L282.83,45.87 L282.17,46.8 L283.23,47.2 L282.87,48.04 L283.63,48.54 L282.97,49.46 L284.03,49.87 L283.37,50.8 L284.43,51.2 L283.77,52.13 L284.83,52.54 L284.17,53.46 L285.23,53.87 L284.57,54.8 L285.63,55.2 L284.97,56.13 L286.03,56.54 L285.37,57.46 L286.13,57.96 L285.77,58.74 L286.83,59.06 L286.17,59.94 L287.23,60.26 L286.57,61.14 L287.63,61.46 L286.97,62.34 L288.03,62.66 L287.37,63.54 L287.87,63.96 L288.63,63.54 L287.97,62.66 L289.03,62.34 L288.37,61.46 L289.43,61.14 L288.77,60.26 L289.83,59.94 L289.17,59.06 L290.23,58.74 L289.87,57.98 L290.54,57.38 L289.74,56.58 L290.72,56.01 L289.92,55.21 L290.9,54.65 L290.1,53.85 L291.08,53.29 L290.28,52.49 L291.26,51.92 L290.46,51.12 L291.45,50.56 L290.64,49.76 L291.63,49.2 L290.83,48.4 L291.81,47.83 L291.01,47.03 L291.99,46.47 L291.19,45.67 L292.17,45.1 L291.37,44.3 L292.36,43.74 L292.13,42.96 L291.75,43.76 L292.8,44.15 L292.11,45.03 L293.16,45.42 L292.48,46.31 L293.52,46.69 L292.84,47.58 L293.89,47.97 L293.2,48.85 L294.25,49.24 L293.87,50.04 L294.61,50.51 L293.93,51.4 L294.98,51.79 L294.29,52.67 L295.34,53.06 L294.66,53.94 L295.71,54.33 L295.02,55.21 L296.07,55.6 L295.39,56.49 L296.11,56.93 L295.96,57.75 L297.04,57.75 L296.63,58.75 L297.71,58.75 L297.29,59.75 L297.87,59.96 L298.62,59.58 L297.98,58.71 L299.02,58.43 L298.38,57.57 L299.42,57.29 L298.78,56.42 L299.28,56.05 L300.07,56.42 L299.51,57.38 L300.59,57.62 L300.03,58.58 L301.11,58.82 L300.55,59.78 L301.63,60.02 L301.07,60.98 L302.15,61.22 L302.13,62.02 L301.66,61.25 L302.66,60.7 L301.87,59.88 L302.87,59.33 L302.08,58.51 L303.08,57.96 L302.29,57.14 L303.29,56.59 L302.5,55.77 L303.5,55.23 L302.71,54.41 L303.71,53.86 L302.92,53.04 L303.92,52.49 L303.13,51.67 L304.13,51.12 L303.34,50.3 L304.34,49.75 L304.13,48.96 L303.77,49.74 L304.83,50.06 L304.17,50.94 L305.23,51.26 L304.57,52.14 L305.63,52.46 L304.97,53.34 L306.03,53.66 L305.37,54.54 L306.13,54.95 L305.81,55.79 L306.89,56.12 L306.29,57.07 L307.37,57.39 L306.76,58.34 L307.84,58.66 L307.23,59.61 L308.31,59.93 L307.71,60.88 L308.79,61.21 L308.73,62.01 L308.18,61.3 L309.11,60.65 L308.25,59.93 L309.18,59.28 L308.31,58.56 L309.24,57.92 L308.37,57.19 L309.3,56.55 L308.43,55.82 L309.37,55.18 L308.5,54.45 L309.43,53.81 L308.56,53.08 L309.49,52.44 L308.62,51.72 L309.55,51.07 L308.69,50.35 L309.62,49.7 L308.75,48.98 L309.68,48.34 L308.81,47.61 L309.74,46.97 L308.88,46.24 L309.81,45.6 L308.94,44.87 L309.87,44.23 L309,43.51 L309.93,42.86 L309.07,42.14 L310,41.49 L309.13,40.77 L310.06,40.13 L309.19,39.4 L310.12,38.76 L309.26,38.03 L310.19,37.39 L309.32,36.66 L309.68,36.07 L310.51,36.35 L310.03,37.36 L311.14,37.5 L310.66,38.5 L311.77,38.64 L311.29,39.65 L312.13,39.97 L311.7,40.74 L312.72,41.19 L311.99,42.03 L313.01,42.47 L312.28,43.31 L313.3,43.76 L312.56,44.6 L313.58,45.05 L312.85,45.88 L313.87,46.33 L313.13,47.17 L314.15,47.62 L313.42,48.45 L314.13,48.97 L313.72,49.75 L314.74,50.19 L314.02,51.04 L315.05,51.48 L314.33,52.34 L315.36,52.78 L314.63,53.63 L315.66,54.07 L314.94,54.93 L315.97,55.37 L315.24,56.22 L316.27,56.66 L315.55,57.52 L316.58,57.96 L315.86,58.81 L316.88,59.25 L316.73,60.02 L316.27,59.26 L317.28,58.74 L316.51,57.92 L317.51,57.41 L316.74,56.59 L317.74,56.08 L316.97,55.26 L317.98,54.74 L317.21,53.92 L318.21,53.41 L317.44,52.59 L317.87,52.03 L318.58,52.55 L317.85,53.38 L318.87,53.83 L318.13,54.67 L319.15,55.12 L318.42,55.95 L319.44,56.4 L318.7,57.24 L319.72,57.69 L318.99,58.53 L320.01,58.97 L319.28,59.81 L320.3,60.26 L320.12,61.06 L319.87,60.21 L320.97,59.99 L320.43,59.01 L321.53,58.79 L321.53,57.98 L321.07,58.72 L322.07,59.21 L321.3,60.01 L322.3,60.49 L321.53,61.29 L322.53,61.78 L321.76,62.58 L322.76,63.06 L321.99,63.86 L322.99,64.35 L322.21,65.15 L323.21,65.64 L322.44,66.44 L322.89,66.92 L323.75,66.78 L323.45,65.72 L324.55,65.78 L324.73,64.98 L324.27,65.74 L325.27,66.26 L324.5,67.08 L325.5,67.59 L324.73,68.41 L325.73,68.92 L324.96,69.74 L325.96,70.26 L325.19,71.08 L326.19,71.59 L325.41,72.41 L326.41,72.92 L325.64,73.74 L326.64,74.26 L325.87,75.08 L326.87,75.59 L326.1,76.41 L327.1,76.92 L326.33,77.74 L327.33,78.26 L326.87,79.03 L327.57,79.58 L326.83,80.42 L327.84,80.91 L327.09,81.75 L328.11,82.25 L327.36,83.09 L328.37,83.58 L327.63,84.42 L328.64,84.91 L327.89,85.75 L328.91,86.25 L328.16,87.09 L329.17,87.58 L328.43,88.42 L329.13,88.98 L328.67,89.74 L329.67,90.26 L328.89,91.07 L329.89,91.59 L329.11,92.41 L330.11,92.93 L329.33,93.74 L330.33,94.26 L329.56,95.07 L330.55,95.59 L329.78,96.41 L330.78,96.93 L330,97.74 L331,98.26 L330.22,99.07 L331.22,99.59 L330.45,100.41 L331.13,100.97 L330.7,101.77 L331.71,102.28 L330.97,103.14 L331.99,103.65 L331.24,104.51 L332.26,105.02 L331.52,105.88 L332.54,106.39 L331.79,107.25 L332.81,107.75 L332.06,108.61 L333.08,109.12 L332.34,109.98 L333.36,110.49 L332.61,111.35 L333.63,111.86 L332.89,112.72 L333.9,113.23 L333.73,114.01 L333.23,113.27 L334.19,112.68 L333.37,111.9 L334.34,111.31 L333.52,110.53 L334.49,109.94 L333.67,109.16 L334.64,108.57 L333.82,107.79 L334.78,107.21 L333.96,106.43 L334.93,105.84 L334.11,105.06 L335.08,104.47 L334.26,103.69 L335.23,103.1 L334.41,102.32 L335.37,101.73 L335.13,100.98 L334.67,101.74 L335.67,102.26 L334.89,103.07 L335.89,103.59 L335.11,104.41 L336.11,104.93 L335.33,105.74 L336.33,106.26 L335.56,107.07 L336.55,107.59 L335.78,108.41 L336.78,108.93 L336,109.74 L337,110.26 L336.22,111.07 L337.22,111.59 L336.45,112.41 L337.13,112.95 L336.83,113.79 L337.92,114.08 L337.33,115.04 L338.42,115.33 L337.83,116.29 L338.92,116.58 L338.33,117.54 L338.92,117.89 L339.79,117.96 L339.77,116.84 L340.83,117.16 L340.81,116.04 L341.47,116.03 L342.18,116.55 L341.45,117.38 L342.47,117.83 L341.73,118.67 L342.75,119.12 L342.02,119.95 L343.04,120.4 L342.3,121.24 L343.32,121.69 L342.59,122.53 L343.61,122.97 L342.88,123.81 L343.9,124.26 L343.47,125.02 L344.16,125.59 L343.39,126.41 L344.39,126.92 L343.62,127.74 L344.63,128.26 L343.86,129.08 L344.86,129.59 L344.09,130.41 L345.09,130.92 L344.32,131.74 L345.33,132.26 L345.12,133.07 L344.95,132.21 L346.05,132.12 L345.61,131.1 L346.72,131.01 L346.28,129.99 L347.39,129.9 L346.95,128.88 L348.05,128.79 L347.9,127.9 L348.75,127.89 L348.54,126.82 L349.6,127.03 L349.4,125.97 L350.46,126.18 L350.25,125.11 L351.13,125.02 L350.64,124.26 L351.63,123.7 L350.83,122.9 L351.81,122.33 L351.01,121.53 L351.99,120.97 L351.19,120.17 L352.17,119.6 L351.37,118.8 L352.36,118.24 L351.55,117.44 L352.54,116.88 L351.74,116.08 L352.72,115.51 L351.92,114.71 L352.9,114.15 L352.1,113.35 L353.08,112.79 L352.28,111.99 L353.26,111.42 L352.46,110.62 L352.87,110.04 L353.62,110.42 L352.98,111.29 L354.02,111.57 L353.38,112.43 L354.42,112.71 L353.78,113.58 L354.28,113.94 L355.09,113.63 L354.57,112.66 L355.66,112.49 L355.14,111.51 L356.23,111.34 L355.71,110.37 L356.53,110.01 L356,109.28 L356.94,108.66 L356.09,107.91 L357.03,107.29 L356.18,106.54 L357.12,105.92 L356.27,105.17 L357.21,104.54 L356.36,103.8 L357.31,103.17 L356.45,102.43 L357.4,101.8 L356.55,101.06 L357.49,100.43 L356.64,99.68 L357.58,99.06 L356.73,98.31 L357.67,97.69 L356.82,96.94 L357.76,96.32 L356.91,95.57 L357.85,94.94 L357,94.2 L357.95,93.57 L357.09,92.83 L358.04,92.2 L357.19,91.46 L358.13,90.83 L357.28,90.08 L358.22,89.46 L357.37,88.71 L358.31,88.09 L357.46,87.34 L358.4,86.72 L358.13,85.97 L357.69,86.75 L358.71,87.25 L357.96,88.09 L358.97,88.58 L358.23,89.42 L359.24,89.91 L358.49,90.75 L359.51,91.25 L358.76,92.09 L359.77,92.58 L359.03,93.42 L359.73,93.98 L359.25,94.73 L360.23,95.27 L359.43,96.06 L360.42,96.6 L359.62,97.4 L360.61,97.94 L359.81,98.73 L360.79,99.27 L359.99,100.06 L360.98,100.6 L360.18,101.4 L361.17,101.94 L360.37,102.73 L361.35,103.27 L360.87,104.05 L361.66,104.48 L361.05,105.43 L362.13,105.75 L361.52,106.7 L362.6,107.03 L362,107.97 L363.08,108.3 L362.47,109.25 L363.55,109.57 L362.94,110.52 L363.47,110.96 L364.21,110.49 L363.53,109.6 L364.58,109.21 L363.89,108.33 L364.94,107.94 L364.26,107.06 L365.31,106.67 L364.62,105.79 L365.67,105.4 L364.99,104.51 L365.47,104.03 L366.17,104.58 L365.43,105.42 L366.44,105.91 L365.69,106.75 L366.71,107.25 L365.96,108.09 L366.97,108.58 L366.23,109.42 L367.24,109.91 L366.49,110.75 L367.51,111.25 L366.76,112.09 L367.77,112.58 L367.03,113.42 L367.73,113.97 L367.34,114.76 L368.38,115.17 L367.68,116.04 L368.72,116.46 L368.02,117.33 L369.06,117.74 L368.37,118.62 L369.41,119.03 L368.71,119.9 L369.75,120.31 L369.05,121.19 L370.09,121.6 L369.39,122.47 L369.87,122.98 L370.56,122.41 L369.79,121.59 L370.79,121.08 L370.01,120.26 L371.01,119.74 L370.24,118.92 L371.24,118.41 L370.47,117.59 L371.47,117.08 L370.7,116.26 L371.7,115.74 L370.93,114.92 L371.93,114.41 L371.16,113.59 L372.16,113.08 L371.39,112.26 L372.39,111.74 L371.61,110.92 L372.61,110.41 L371.84,109.59 L372.27,109.02 L372.97,109.61 L372.21,110.46 L373.22,110.98 L372.46,111.83 L373.47,112.36 L372.71,113.21 L373.72,113.73 L372.96,114.58 L373.97,115.11 L373.21,115.96 L374.22,116.48 L373.46,117.33 L374.47,117.86 L373.71,118.71 L374.72,119.23 L374.27,120.05 L375.06,120.48 L374.45,121.43 L375.53,121.75 L374.92,122.7 L376,123.03 L375.4,123.97 L376.48,124.3 L375.87,125.25 L376.95,125.57 L376.34,126.52 L376.88,126.95 L377.67,126.58 L377.11,125.62 L378.19,125.38 L377.63,124.42 L378.71,124.18 L378.15,123.22 L379.23,122.98 L378.67,122.02 L379.75,121.78 L379.73,120.97 L379.3,121.74 L380.32,122.19 L379.59,123.03 L380.61,123.47 L379.88,124.31 L380.9,124.76 L380.16,125.6 L381.18,126.05 L380.45,126.88 L381.47,127.33 L380.73,128.17 L381.75,128.62 L381.02,129.45 L381.47,129.97 L382.2,129.44 L381.48,128.56 L382.52,128.11 L381.8,127.23 L382.84,126.77 L382.12,125.89 L383.16,125.44 L382.44,124.56 L383.48,124.11 L382.76,123.23 L383.8,122.77 L383.08,121.89 L384.12,121.44 L383.4,120.56 L384.09,120.1 L384.19,119.25 L385.25,119.55 L385.15,118.45 L386.21,118.75 L386.52,117.94 L386.29,118.76 L387.38,118.9 L386.87,119.87 L387.95,120.01 L387.45,120.99 L388.53,121.13 L388.02,122.1 L389.11,122.24 L388.87,123.05 L389.67,123.46 L389.08,124.42 L390.17,124.71 L389.58,125.67 L390.67,125.96 L390.08,126.92 L391.17,127.21 L390.87,128.03 L391.59,128.54 L390.87,129.4 L391.9,129.84 L391.17,130.69 L392.2,131.13 L391.48,131.99 L392.51,132.43 L391.79,133.28 L392.81,133.72 L392.09,134.57 L393.12,135.01 L392.4,135.87 L393.43,136.31 L392.7,137.16 L393.73,137.6 L393.01,138.46 L393.47,138.97 L394.2,138.44 L393.48,137.56 L394.52,137.11 L393.8,136.23 L394.84,135.77 L394.12,134.89 L395.16,134.44 L394.44,133.56 L395.48,133.11 L394.76,132.23 L395.8,131.77 L395.08,130.89 L396.12,130.44 L395.4,129.56 L396.13,129.02 L395.65,128.25 L396.63,127.67 L395.83,126.86 L396.82,126.29 L396.02,125.48 L397,124.91 L396.2,124.09 L397.18,123.52 L396.38,122.71 L397.37,122.14 L396.57,121.33 L397.55,120.75 L396.75,119.94 L397.74,119.37 L396.94,118.56 L397.92,117.98 L397.12,117.17 L398.11,116.6 L397.31,115.79 L398.29,115.21 L397.49,114.4 L398.48,113.83 L397.68,113.02 L398.66,112.44 L397.86,111.63 L398.27,111.04 L399.01,111.51 L398.33,112.4 L399.38,112.79 L398.69,113.67 L399.74,114.06 L399.06,114.94 L400.11,115.33 L399.42,116.21 L400.47,116.6 L399.79,117.49 L400.53,117.97 L400.09,118.75 L401.11,119.25 L400.36,120.09 L401.37,120.58 L400.63,121.42 L401.64,121.91 L400.89,122.75 L401.91,123.25 L401.16,124.09 L402.17,124.58 L401.43,125.42 L402.44,125.91 L401.69,126.75 L402.71,127.25 L402.53,128.01 L402.02,127.28 L402.98,126.68 L402.14,125.92 L403.1,125.32 L402.27,124.56 L403.23,123.96 L402.4,123.2 L403.36,122.6 L402.53,121.84 L403.49,121.24 L402.66,120.48 L403.62,119.88 L402.78,119.12 L403.74,118.52 L402.91,117.76 L403.87,117.16 L403.04,116.4 L404,115.8 L403.17,115.04 L404.13,114.44 L403.3,113.68 L404.26,113.08 L403.42,112.32 L404.38,111.72 L404.13,110.96 L403.79,111.78 L404.86,112.13 L404.23,113.06 L405.3,113.4 L404.67,114.33 L405.73,114.67 L405.1,115.6 L406.17,115.94 L405.54,116.87 L406.61,117.22 L406.53,118.03 L406.14,117.22 L407.19,116.78 L406.5,115.88 L407.55,115.45 L406.85,114.55 L407.9,114.12 L407.21,113.22 L408.26,112.78 L408.13,111.96 L407.77,112.8 L408.83,113.2 L408.17,114.13 L409.23,114.54 L408.57,115.46 L409.63,115.87 L408.97,116.8 L410.03,117.2 L409.37,118.13 L410.43,118.54 L409.77,119.46 L410.53,119.96 L410.15,120.77 L411.2,121.16 L410.52,122.05 L411.58,122.45 L410.9,123.34 L411.95,123.73 L411.27,124.62 L412.32,125.02 L411.64,125.91 L412.69,126.3 L412.01,127.2 L413.06,127.59 L412.38,128.48 L413.12,128.94 L412.89,129.76 L413.98,129.9 L413.47,130.87 L414.55,131.01 L414.05,131.99 L415.13,132.13 L414.62,133.1 L415.71,133.24 L415.47,134.03 L416.21,134.53 L415.51,135.4 L416.55,135.81 L415.85,136.69 L416.89,137.1 L416.19,137.97 L417.23,138.38 L416.54,139.26 L417.58,139.67 L416.88,140.54 L417.92,140.96 L417.22,141.83 L418.26,142.24 L418.13,143.04 L417.79,142.21 L418.86,141.86 L418.22,140.93 L419.28,140.57 L418.64,139.64 L419.71,139.29 L419.07,138.36 L420.14,138 L419.5,137.07 L420.57,136.71 L419.93,135.79 L421,135.43 L420.36,134.5 L420.87,134.05 L421.67,134.46 L421.08,135.42 L422.17,135.71 L421.58,136.67 L422.67,136.96 L422.08,137.92 L423.17,138.21 L423.12,139.06 L422.87,138.21 L423.97,137.99 L423.43,137.01 L424.53,136.79 L424.53,135.97 L424.1,136.74 L425.12,137.19 L424.39,138.03 L425.41,138.47 L424.68,139.31 L425.7,139.76 L424.96,140.6 L425.98,141.05 L425.25,141.88 L426.27,142.33 L425.53,143.17 L426.55,143.62 L425.82,144.45 L426.27,144.98 L426.93,144.39 L426.13,143.61 L427.11,143.06 L426.31,142.27 L427.29,141.73 L426.49,140.94 L427.47,140.39 L426.67,139.61 L427.65,139.06 L426.84,138.27 L427.82,137.73 L427.02,136.94 L428,136.39 L427.2,135.61 L428.18,135.06 L427.38,134.27 L428.36,133.73 L428.13,132.97 L427.69,133.75 L428.71,134.25 L427.96,135.09 L428.97,135.58 L428.23,136.42 L429.24,136.91 L428.49,137.75 L429.51,138.25 L428.76,139.09 L429.77,139.58 L429.03,140.42 L429.47,140.99 L430.1,140.34 L429.26,139.58 L430.21,138.96 L429.37,138.2 L430.32,137.57 L429.47,136.81 L430.43,136.19 L429.58,135.43 L430.53,134.8 L429.69,134.04 L430.64,133.42 L429.8,132.66 L430.75,132.03 L429.91,131.27 L430.86,130.65 L430.01,129.89 L430.96,129.27 L430.12,128.5 L431.07,127.88 L430.23,127.12 L431.18,126.5 L430.34,125.73 L431.29,125.11 L430.44,124.35 L431.39,123.73 L430.87,122.96 L431.61,122.49 L430.93,121.6 L431.98,121.21 L431.29,120.33 L432.34,119.94 L431.66,119.06 L432.71,118.67 L432.02,117.79 L433.07,117.4 L432.39,116.51 L432.87,116.03 L433.58,116.55 L432.85,117.38 L433.87,117.83 L433.13,118.67 L434.15,119.12 L433.42,119.95 L434.44,120.4 L433.7,121.24 L434.72,121.69 L433.99,122.53 L435.01,122.97 L434.28,123.81 L435.3,124.26 L435.1,125.1 L435.11,124.25 L436.18,124.46 L435.97,123.4 L437.03,123.6 L436.82,122.54 L437.89,122.75 L438.12,121.94 L437.88,122.77 L438.97,122.94 L438.45,123.92 L439.55,124.08 L439.03,125.06 L440.12,125.23 L440.13,126.03 L439.68,125.29 L440.69,124.84 L439.93,124.04 L440.94,123.59 L440.18,122.79 L441.19,122.34 L440.43,121.54 L440.87,121.01 L441.52,121.64 L440.71,122.43 L441.68,123.03 L440.86,123.82 L441.83,124.41 L441.01,125.2 L441.99,125.8 L441.17,126.59 L442.14,127.18 L441.32,127.97 L442.29,128.57 L441.48,129.36 L441.87,130 L442.47,129.33 L441.6,128.61 L442.52,127.95 L441.65,127.23 L442.57,126.58 L441.7,125.86 L442.62,125.2 L441.75,124.48 L442.67,123.83 L441.8,123.11 L442.72,122.45 L441.85,121.73 L442.77,121.08 L441.9,120.36 L442.82,119.7 L441.95,118.98 L442.87,118.33 L442,117.61 L442.92,116.95 L442.05,116.23 L442.97,115.58 L442.1,114.86 L443.02,114.2 L442.15,113.48 L443.07,112.83 L442.2,112.11 L443.12,111.45 L442.25,110.73 L443.17,110.08 L442.3,109.36 L443.22,108.7 L442.93,107.97 L442.51,108.74 L443.53,109.17 L442.8,110.01 L443.82,110.45 L443.09,111.28 L444.11,111.72 L443.38,112.55 L444.4,112.99 L443.67,113.83 L444.69,114.26 L444.27,115.01 L444.92,115.64 L444.1,116.42 L445.07,117.01 L444.25,117.8 L445.22,118.39 L444.4,119.17 L445.37,119.76 L444.55,120.55 L445.52,121.14 L444.7,121.92 L445.67,122.51 L444.85,123.3 L445.82,123.89 L445,124.67 L445.97,125.26 L445.73,126.02 L445.26,125.29 L446.24,124.78 L445.46,124 L446.44,123.5 L445.66,122.72 L446.64,122.21 L445.86,121.43 L446.84,120.93 L446.06,120.15 L447.04,119.64 L446.26,118.86 L447.24,118.35 L446.46,117.57 L446.87,117.02 L447.55,117.59 L446.78,118.41 L447.78,118.93 L447,119.74 L448,120.26 L447.22,121.07 L448.22,121.59 L447.45,122.41 L448.44,122.93 L447.67,123.74 L448.67,124.26 L447.89,125.07 L448.89,125.59 L448.11,126.41 L449.11,126.93 L448.33,127.74 L449.33,128.26 L448.87,129.03 L449.57,129.58 L448.83,130.42 L449.84,130.91 L449.09,131.75 L450.11,132.25 L449.36,133.09 L450.37,133.58 L449.63,134.42 L450.64,134.91 L449.89,135.75 L450.91,136.25 L450.16,137.09 L451.17,137.58 L450.43,138.42 L450.87,138.98 L451.57,138.39 L450.81,137.54 L451.82,137.02 L451.06,136.17 L452.07,135.64 L451.31,134.79 L452.32,134.27 L451.56,133.42 L452.57,132.89 L451.81,132.04 L452.82,131.52 L452.06,130.67 L453.07,130.14 L452.31,129.29 L453.32,128.77 L453.13,127.97 L452.7,128.74 L453.72,129.19 L452.99,130.03 L454.01,130.47 L453.28,131.31 L454.3,131.76 L453.56,132.6 L454.58,133.05 L453.85,133.88 L454.87,134.33 L454.13,135.17 L455.15,135.62 L454.42,136.45 L454.87,136.97 L455.58,136.43 L454.85,135.57 L455.87,135.09 L455.13,134.24 L456.15,133.76 L455.42,132.91 L456.44,132.43 L455.7,131.57 L456.73,131.09 L455.99,130.24 L457.01,129.76 L456.27,128.91 L457.3,128.43 L456.56,127.57 L457.58,127.09 L456.85,126.24 L457.87,125.76 L457.13,124.91 L458.15,124.43 L457.42,123.57 L457.87,123.03 L458.57,123.58 L457.83,124.42 L458.84,124.91 L458.09,125.75 L459.11,126.25 L458.36,127.09 L459.37,127.58 L458.63,128.42 L459.64,128.91 L458.89,129.75 L459.91,130.25 L459.16,131.09 L460.17,131.58 L459.43,132.42 L460.13,132.97 L459.73,133.78 L460.77,134.22 L460.06,135.11 L461.1,135.56 L460.4,136.44 L461.44,136.89 L460.73,137.78 L461.77,138.22 L461.06,139.11 L462.1,139.56 L461.4,140.44 L462.44,140.89 L461.73,141.78 L462.77,142.22 L462.06,143.11 L463.1,143.56 L462.4,144.44 L463.13,144.96 L462.77,145.8 L463.83,146.2 L463.17,147.13 L464.23,147.54 L463.57,148.46 L464.63,148.87 L463.97,149.8 L465.03,150.2 L464.37,151.13 L465.43,151.54 L464.77,152.46 L465.83,152.87 L465.17,153.8 L466.23,154.2 L465.88,155.06 L466.7,155.4 L466.2,156.4 L467.3,156.6 L466.8,157.6 L467.9,157.8 L467.4,158.8 L468.5,159 L468,160 L469.1,160.2 L469.13,161.03 L468.74,160.24 L469.78,159.83 L469.08,158.96 L470.12,158.54 L469.42,157.67 L470.46,157.26 L469.77,156.38 L470.81,155.97 L470.11,155.1 L471.15,154.69 L470.45,153.81 L471.49,153.4 L470.79,152.53 L471.52,152.06 L471.29,151.24 L472.38,151.1 L471.87,150.13 L472.95,149.99 L472.45,149.01 L473.53,148.87 L473.02,147.9 L474.11,147.76 L474.13,146.96 L473.77,147.74 L474.83,148.06 L474.17,148.94 L475.23,149.26 L474.57,150.14 L475.63,150.46 L474.97,151.34 L476.03,151.66 L475.37,152.54 L475.87,152.96 L476.64,152.5 L476,151.57 L477.07,151.21 L476.43,150.29 L477.5,149.93 L476.86,149 L477.93,148.64 L477.29,147.71 L478.36,147.36 L477.72,146.43 L478.78,146.07 L478.14,145.14 L479.21,144.79 L479.1,143.9 L479.11,144.75 L480.18,144.54 L479.97,145.6 L481.03,145.4 L480.82,146.46 L481.89,146.25 L481.88,147.06 L482.69,147.35 L482.18,148.32 L483.27,148.46 L482.76,149.43 L483.84,149.57 L483.33,150.54 L484.42,150.68 L483.91,151.65 L484.73,151.97 L484.29,152.75 L485.31,153.25 L484.56,154.09 L485.57,154.58 L484.83,155.42 L485.84,155.91 L485.09,156.75 L486.11,157.25 L485.36,158.09 L486.37,158.58 L485.63,159.42 L486.64,159.91 L485.89,160.75 L486.91,161.25 L486.16,162.09 L487.17,162.58 L486.43,163.42 L486.87,163.96 L487.61,163.49 L486.93,162.6 L487.98,162.21 L487.29,161.33 L488.34,160.94 L487.66,160.06 L488.71,159.67 L488.02,158.79 L489.07,158.4 L488.39,157.51 L488.87,157.05 L489.66,157.43 L489.06,158.37 L490.14,158.63 L489.54,159.57 L490.62,159.83 L490.02,160.77 L491.1,161.03 L490.5,161.97 L491.58,162.23 L491.27,163.04 L492.02,163.52 L491.34,164.41 L492.39,164.8 L491.71,165.7 L492.76,166.09 L492.08,166.98 L493.13,167.38 L492.45,168.27 L493.5,168.66 L492.82,169.55 L493.88,169.95 L493.2,170.84 L494.25,171.23 L493.88,172.07 L494.72,172.32 L494.28,173.34 L495.39,173.44 L494.95,174.45 L496.05,174.55 L495.61,175.56 L496.72,175.66 L496.28,176.68 L497.13,176.96 L496.75,177.76 L497.8,178.15 L497.11,179.03 L498.16,179.42 L497.48,180.31 L498.52,180.69 L497.84,181.58 L498.89,181.97 L498.2,182.85 L499.25,183.24 L498.88,184.07 L499.72,184.32 L499.28,185.34 L500.39,185.44 L499.95,186.45 L501.05,186.55 L500.61,187.56 L501.72,187.66 L501.28,188.68 L501.89,188.93 L502.75,188.67 L502.37,187.61 L503.49,187.53 L503.11,186.47 L504.23,186.39 L503.85,185.33 L504.73,185.05 L504.43,184.21 L505.52,183.92 L504.93,182.96 L506.02,182.67 L505.43,181.71 L506.52,181.42 L505.93,180.46 L506.47,180.04 L507.23,180.46 L506.57,181.34 L507.63,181.66 L506.97,182.54 L508.03,182.86 L507.37,183.74 L508.43,184.06 L507.77,184.94 L508.83,185.26 L508.71,186.08 L508.63,185.17 L509.77,185.12 L509.43,184.03 L510.57,183.97 L510.23,182.88 L511.37,182.83 L511.29,181.93 L512.15,181.67 L511.77,180.61 L512.89,180.53 L512.51,179.47 L513.63,179.39 L513.25,178.33 L514.12,178.06 L513.88,177.23 L514.97,177.06 L514.45,176.08 L515.55,175.92 L515.03,174.94 L516.12,174.77 L516.12,173.94 L515.88,174.77 L516.97,174.94 L516.45,175.92 L517.55,176.08 L517.03,177.06 L518.12,177.23 L518.12,178.06 L517.88,177.23 L518.97,177.06 L518.45,176.08 L519.55,175.92 L519.03,174.94 L520.12,174.77 L520.1,173.9 L520.11,174.75 L521.18,174.54 L520.97,175.6 L522.03,175.4 L521.82,176.46 L522.89,176.25 L523.11,177.08 L523.05,176.22 L524.15,176.28 L523.85,175.22 L524.95,175.28 L524.65,174.22 L525.51,174.07 L525.36,173.25 L526.44,173.25 L526.03,172.25 L527.11,172.25 L526.69,171.25 L527.27,171.05 L528.07,171.46 L527.48,172.42 L528.57,172.71 L527.98,173.67 L529.07,173.96 L528.48,174.92 L529.57,175.21 L529.51,176.07 L529.36,175.25 L530.44,175.25 L530.03,174.25 L531.11,174.25 L530.69,173.25 L531.27,173.05 L532.07,173.46 L531.48,174.42 L532.57,174.71 L531.98,175.67 L533.07,175.96 L532.48,176.92 L533.57,177.21 L533.53,178.05 L533.21,177.26 L534.27,177.02 L533.67,176.12 L534.73,175.88 L534.13,174.98 L535.19,174.74 L535.12,173.93 L534.96,174.8 L536.07,174.91 L535.64,175.95 L536.76,176.05 L536.33,177.09 L537.44,177.2 L537.35,178.13 L538.21,177.83 L538.54,178.92 L539.51,178.33 L539.88,179.06 L540.69,179.37 L540.17,180.34 L541.26,180.51 L540.74,181.49 L541.83,181.66 L541.31,182.63 L541.88,182.94 L542.69,182.65 L542.18,181.68 L543.27,181.54 L542.76,180.57 L543.84,180.43 L543.33,179.46 L544.42,179.32 L543.91,178.35 L544.48,178.07 L545.33,178.34 L544.9,179.37 L546.01,179.48 L545.59,180.52 L546.7,180.63 L546.27,181.66 L546.89,181.92 L547.75,181.78 L547.45,180.72 L548.55,180.78 L548.25,179.72 L549.35,179.78 L549.48,178.89 L549.65,179.76 L550.71,179.44 L550.69,180.56 L551.75,180.24 L551.87,181.03 L552.6,181.56 L551.9,182.44 L552.94,182.89 L552.23,183.78 L553.27,184.22 L552.56,185.11 L553.6,185.56 L552.9,186.44 L553.94,186.89 L553.23,187.78 L554.27,188.22 L553.92,189.11 L554.79,189.04 L554.77,190.16 L555.83,189.84 L555.81,190.96 L556.72,190.93 L556.56,191.8 L557.67,191.91 L557.24,192.95 L558.36,193.05 L557.93,194.09 L559.04,194.2 L559.12,195.06 L558.88,194.23 L559.97,194.06 L559.45,193.08 L560.55,192.92 L560.03,191.94 L561.12,191.77 L560.88,190.95 L561.69,190.54 L561.13,189.55 L562.23,189.27 L561.68,188.28 L562.78,188 L562.22,187 L563.32,186.72 L562.77,185.73 L563.87,185.45 L563.31,184.46 L563.9,184.1 L564.72,184.08 L564.48,185.12 L565.52,184.88 L565.28,185.92 L565.88,185.94 L566.69,185.63 L566.17,184.66 L567.26,184.49 L566.74,183.51 L567.83,183.34 L567.31,182.37 L567.87,182.05 L568.66,182.48 L568.05,183.43 L569.13,183.75 L568.52,184.7 L569.6,185.03 L569,185.97 L570.08,186.3 L569.47,187.25 L570.55,187.57 L569.94,188.52 L570.65,188.88 L571.03,189.67 L571.97,189.08 L572.23,190.17 L572.87,189.97 L573.58,189.45 L572.85,188.62 L573.87,188.17 L573.13,187.33 L574.15,186.88 L573.42,186.05 L574.44,185.6 L573.7,184.76 L574.72,184.31 L573.99,183.47 L575.01,183.03 L574.28,182.19 L575.3,181.74 L575.13,180.96 L574.75,181.76 L575.8,182.15 L575.11,183.03 L576.16,183.42 L575.48,184.31 L576.52,184.69 L575.84,185.58 L576.89,185.97 L576.2,186.85 L577.25,187.24 L577.12,188.06 L576.88,187.23 L577.97,187.06 L577.45,186.08 L578.55,185.92 L578.03,184.94 L579.12,184.77 L578.88,183.94 L579.71,183.57 L579.19,182.56 L580.31,182.32 L579.79,181.31 L580.91,181.07 L580.39,180.06 L581.51,179.82 L581.53,178.95 L581.21,179.79 L582.29,180.12 L581.69,181.07 L582.77,181.39 L582.16,182.34 L583.24,182.66 L582.63,183.61 L583.71,183.93 L583.11,184.88 L584.19,185.21 L583.89,186.07 L584.71,186.25 L584.29,187.25 L585.37,187.25 L584.96,188.25 L586.04,188.25 L586.13,189.03 L585.69,188.25 L586.71,187.75 L585.96,186.91 L586.97,186.42 L586.23,185.58 L587.24,185.09 L586.49,184.25 L587.51,183.75 L586.76,182.91 L587.77,182.42 L587.03,181.58 L588.04,181.09 L587.29,180.25 L588.31,179.75 L588.06,178.88 L588.3,179.65 L589.2,179.1 L589.3,180.15 L589.88,179.95 L590.69,179.54 L590.13,178.55 L591.23,178.27 L590.68,177.28 L591.78,177 L591.22,176 L592.32,175.72 L591.77,174.73 L592.87,174.45 L592.31,173.46 L593.11,173.08 L593.01,172.23 L594.11,172.27 L593.76,171.23 L594.86,171.27 L594.51,170.23 L595.61,170.27 L595.26,169.23 L595.87,169.04 L596.63,169.48 L595.97,170.37 L597.03,170.71 L596.37,171.6 L597.43,171.94 L596.77,172.83 L597.83,173.17 L597.17,174.06 L598.23,174.4 L597.57,175.29 L598.63,175.63 L597.97,176.52 L598.72,176.93 L598.56,177.8 L599.67,177.91 L599.24,178.95 L600.36,179.05 L599.93,180.09 L601.04,180.2 L601.12,181.07 L600.96,180.2 L602.07,180.09 L601.64,179.05 L602.76,178.95 L602.33,177.91 L603.44,177.8 L603.28,176.94 L604.09,176.63 L603.57,175.66 L604.66,175.49 L604.14,174.51 L605.23,174.34 L604.71,173.37 L605.28,173.05 L606.07,173.42 L605.51,174.38 L606.59,174.62 L606.03,175.58 L607.11,175.82 L606.55,176.78 L607.63,177.02 L607.07,177.98 L608.15,178.22 L607.9,179.09 L608.77,179.21 L608.53,180.29 L609.64,180.21 L609.39,181.29 L610.51,181.21 L610.47,182.05 L611.26,182.43 L610.66,183.37 L611.74,183.63 L611.14,184.57 L612.22,184.83 L611.62,185.77 L612.7,186.03 L612.1,186.97 L613.18,187.23 L613.13,188.04 L612.75,187.24 L613.8,186.85 L613.11,185.97 L614.16,185.58 L613.48,184.69 L614.52,184.31 L613.84,183.42 L614.89,183.03 L614.2,182.15 L615.25,181.76 L614.87,180.96 L615.64,180.51 L615.01,179.58 L616.08,179.24 L615.45,178.31 L616.52,177.96 L615.88,177.04 L616.95,176.69 L616.32,175.76 L617.39,175.42 L616.76,174.49 L617.32,174.11 L618.19,174.04 L618.17,175.16 L619.23,174.84 L619.21,175.96 L619.88,175.94 L620.69,175.65 L620.18,174.68 L621.27,174.54 L620.76,173.57 L621.84,173.43 L621.33,172.46 L622.42,172.32 L621.91,171.35 L622.48,171.07 L623.33,171.34 L622.9,172.37 L624.01,172.48 L623.59,173.52 L624.7,173.63 L624.27,174.66 L625.13,174.95 L624.83,175.79 L625.92,176.08 L625.33,177.04 L626.42,177.33 L625.83,178.29 L626.92,178.58 L626.33,179.54 L627.13,179.96 L626.77,180.76 L627.83,181.11 L627.17,182.01 L628.23,182.36 L627.57,183.26 L628.63,183.61 L627.97,184.51 L628.47,184.97 L629.18,184.45 L628.45,183.62 L629.47,183.17 L628.73,182.33 L629.75,181.88 L629.02,181.05 L630.04,180.6 L629.3,179.76 L630.32,179.31 L629.59,178.47 L630.61,178.03 L629.88,177.19 L630.9,176.74 L630.47,175.96 L631.23,175.54 L630.57,174.66 L631.63,174.34 L630.97,173.46 L632.03,173.14 L631.37,172.26 L632.43,171.94 L631.77,171.06 L632.83,170.74 L632.7,169.9 L632.68,170.72 L633.72,170.48 L633.48,171.52 L634.52,171.28 L634.7,172.09 L634.67,171.26 L635.73,171.44 L635.47,170.39 L636.53,170.57 L636.27,169.53 L636.88,169.45 L637.66,169.8 L637.09,170.73 L638.16,170.95 L637.59,171.88 L638.66,172.1 L638.09,173.03 L639.16,173.25 L638.88,174.06 L639.69,174.37 L639.17,175.34 L640.26,175.51 L639.74,176.49 L640.83,176.66 L640.31,177.63 L640.87,177.97 L641.57,177.42 L640.83,176.58 L641.84,176.09 L641.09,175.25 L642.11,174.75 L641.36,173.91 L642.37,173.42 L641.63,172.58 L642.64,172.09 L641.89,171.25 L642.91,170.75 L642.73,169.97 L642.33,170.78 L643.37,171.22 L642.66,172.11 L643.7,172.56 L643,173.44 L644.04,173.89 L643.33,174.78 L644.37,175.22 L643.66,176.11 L644.7,176.56 L644,177.44 L644.47,177.97 L645.2,177.44 L644.5,176.56 L645.54,176.11 L644.83,175.22 L645.87,174.78 L645.16,173.89 L646.2,173.44 L645.5,172.56 L646.54,172.11 L645.83,171.22 L646.87,170.78 L646.48,169.94 L647.29,169.63 L646.77,168.66 L647.86,168.49 L647.34,167.51 L648.43,167.34 L647.91,166.37 L648.47,166.04 L649.23,166.46 L648.57,167.34 L649.63,167.66 L648.97,168.54 L650.03,168.86 L649.37,169.74 L650.43,170.06 L649.77,170.94 L650.83,171.26 L650.47,172.04 L651.21,172.51 L650.53,173.4 L651.58,173.79 L650.89,174.67 L651.94,175.06 L651.26,175.94 L652.31,176.33 L651.62,177.21 L652.67,177.6 L651.99,178.49 L652.73,178.97 L652.32,179.77 L653.36,180.23 L652.64,181.11 L653.68,181.56 L652.96,182.44 L654,182.89 L653.28,183.77 L654.32,184.23 L653.6,185.11 L654.64,185.56 L653.92,186.44 L654.96,186.89 L654.24,187.77 L655.28,188.23 L655.13,189.03 L654.71,188.26 L655.73,187.83 L655,186.99 L656.02,186.55 L655.29,185.72 L656.31,185.28 L655.58,184.45 L656.6,184.01 L655.87,183.17 L656.89,182.74 L656.69,181.9 L656.79,182.75 L657.85,182.45 L657.75,183.55 L658.81,183.25 L658.88,184.06 L659.69,184.37 L659.17,185.34 L660.26,185.51 L659.74,186.49 L660.83,186.66 L660.31,187.63 L660.9,187.9 L661.72,187.92 L661.48,186.88 L662.52,187.12 L662.28,186.08 L662.88,186.06 L663.69,186.37 L663.17,187.34 L664.26,187.51 L663.74,188.49 L664.83,188.66 L664.31,189.63 L664.87,189.96 L665.63,189.54 L664.97,188.66 L666.03,188.34 L665.37,187.46 L666.43,187.14 L665.77,186.26 L666.83,185.94 L666.17,185.06 L667.23,184.74 L667.12,183.93 L666.96,184.8 L668.07,184.91 L667.64,185.95 L668.76,186.05 L668.33,187.09 L669.44,187.2 L669.51,188.07 L669.36,187.25 L670.44,187.25 L670.03,186.25 L671.11,186.25 L670.69,185.25 L671.27,185.03 L672,185.56 L671.3,186.44 L672.34,186.89 L671.63,187.78 L672.67,188.22 L671.96,189.11 L673,189.56 L672.3,190.44 L673.34,190.89 L672.63,191.78 L673.67,192.22 L673.28,193.06 L674.09,193.37 L673.57,194.34 L674.66,194.51 L674.14,195.49 L675.23,195.66 L674.71,196.63 L675.27,196.97 L675.98,196.45 L675.25,195.62 L676.27,195.17 L675.53,194.33 L676.55,193.88 L675.82,193.05 L676.84,192.6 L676.1,191.76 L677.12,191.31 L676.39,190.47 L677.41,190.03 L676.68,189.19 L677.7,188.74 L677.53,187.95 L677.21,188.74 L678.27,188.98 L677.67,189.88 L678.73,190.12 L678.13,191.02 L679.19,191.26 L678.87,192.04 L679.63,192.49 L678.97,193.39 L680.03,193.74 L679.37,194.64 L680.43,194.99 L679.77,195.89 L680.83,196.24 L680.73,197.02 L680.27,196.26 L681.28,195.74 L680.51,194.92 L681.51,194.41 L680.74,193.59 L681.74,193.08 L680.97,192.26 L681.98,191.74 L681.21,190.92 L682.21,190.41 L681.44,189.59 L682.11,189.08 L682.01,188.23 L683.11,188.27 L682.76,187.23 L683.86,187.27 L683.51,186.23 L684.61,186.27 L684.26,185.23 L684.89,185.08 L685.75,185.22 L685.45,186.28 L686.55,186.22 L686.25,187.28 L687.35,187.22 L687.45,188.13 L687.89,187.33 L688.86,187.92 L689.19,186.83 L689.87,187.02 L690.57,187.61 L689.81,188.46 L690.82,188.98 L690.06,189.83 L691.07,190.36 L690.31,191.21 L691.32,191.73 L690.56,192.58 L691.57,193.11 L690.81,193.96 L691.82,194.48 L691.06,195.33 L692.07,195.86 L691.31,196.71 L692.32,197.23 L692.13,198.03 L691.73,197.22 L692.77,196.78 L692.06,195.89 L693.1,195.44 L692.4,194.56 L693.44,194.11 L692.73,193.22 L693.77,192.78 L693.06,191.89 L694.1,191.44 L693.4,190.56 L693.92,190.11 L694.79,190.04 L694.77,191.16 L695.83,190.84 L695.81,191.96 L696.69,191.9 L696.79,192.75 L697.85,192.45 L697.75,193.55 L698.81,193.25 L698.87,194.04 L699.61,194.51 L698.93,195.4 L699.98,195.79 L699.29,196.67 L700.34,197.06 L699.66,197.94 L700.71,198.33 L700.02,199.21 L701.07,199.6 L700.39,200.49 L701.13,200.96 L700.75,201.76 L701.8,202.15 L701.11,203.03 L702.16,203.42 L701.48,204.31 L702.52,204.69 L701.84,205.58 L702.89,205.97 L702.2,206.85 L703.25,207.24 L703.13,208.02 L702.64,207.26 L703.62,206.69 L702.81,205.89 L703.78,205.32 L702.97,204.52 L703.95,203.95 L703.14,203.16 L704.12,202.58 L703.31,201.79 L704.29,201.21 L703.48,200.42 L704.46,199.84 L703.65,199.05 L704.63,198.48 L703.82,197.68 L704.79,197.11 L703.98,196.31 L704.96,195.74 L704.72,194.94 L704.49,195.82 L705.61,196.06 L705.09,197.07 L706.21,197.31 L705.69,198.32 L706.81,198.56 L706.29,199.57 L707.06,199.88 L707.3,200.65 L708,200.5 L708.5,200.75 L709,201 L709.67,200.97 L710.33,200.93 L711,200.9 L711.67,200.87 L712.33,200.83 L713,200.8 L713.67,200.77 L714.33,200.73 L715,200.7 L715.67,200.67 L716.33,200.63 L717,200.6 L717.48,201.08 L717.96,201.56 L718.12,202.36 L719.24,202.2 L719.27,203.05 L720.05,203.4 L719.44,204.31 L720.5,204.55 L719.9,205.45 L720.96,205.69 L720.35,206.6 L720.87,206.95 L721.65,206.6 L721.04,205.69 L722.1,205.45 L721.5,204.55 L722.56,204.31 L721.95,203.4 L722.47,203.04 L723.21,203.51 L722.53,204.4 L723.58,204.79 L722.89,205.67 L723.94,206.06 L723.26,206.94 L724.31,207.33 L723.62,208.21 L724.67,208.6 L723.99,209.49 L724.73,209.96 L724.37,210.74 L725.43,211.06 L724.77,211.94 L725.83,212.26 L725.17,213.14 L726.23,213.46 L725.57,214.34 L726.63,214.66 L725.97,215.54 L726.47,215.97 L727.17,215.42 L726.43,214.58 L727.44,214.09 L726.69,213.25 L727.71,212.75 L726.96,211.91 L727.97,211.42 L727.23,210.58 L727.8,210.13" fill="none" stroke="#e21a30" stroke-width="1.7" stroke-linejoin="round" stroke-linecap="round"/>
<g fill="none" stroke="#e21a30" stroke-linejoin="round" stroke-linecap="round"><path d="M131,90 L131.07,89.22 L131.13,88.44 L131.2,87.67 L131.27,86.89 L131.33,86.11 L131.4,85.33 L131.47,84.56 L131.53,83.78 L131.6,83 L132.08,82.4 L132.56,81.8 L133.04,81.2 L133.52,80.6 L134,80 L134.33,80.67 L134.67,81.33 L135,82 L135.33,82.67 L135.67,83.33 L136,84 L136.4,83.4 L136.8,82.8 L137.2,82.2 L137.6,81.6 L138,81 L138.6,81.5" stroke-width="3.26"/><path d="M165,75.17 L165.2,74.45 L165.4,73.72 L165.6,73 L166.28,73.2 L166.96,73.4 L167.64,73.6 L168.32,73.8 L169,74 L169.33,73.33 L169.67,72.67 L170,72 L170.33,71.33 L170.67,70.67 L171,70" stroke-width="3.39"/><path d="M205,59 L205.5,59.5 L206,60 L206.5,60.5 L207,61 L207.5,61.5 L208,62 L208.27,61.27 L208.53,60.53 L208.8,59.8 L209.07,59.07 L209.33,58.33 L209.6,57.6 L209.87,56.87 L210.13,56.13 L210.4,55.4 L210.67,54.67 L210.93,53.93 L211.2,53.2 L211.47,52.47 L211.73,51.73 L212,51" stroke-width="3.26"/><path d="M246.05,54.72 L246.1,53.95 L246.16,53.18 L246.21,52.41 L246.27,51.63 L246.32,50.86 L246.38,50.09 L246.43,49.32 L246.49,48.54 L246.54,47.77 L246.6,47 L246.89,47.71 L247.17,48.43 L247.46,49.14 L247.74,49.86 L248.03,50.57 L248.31,51.29 L248.6,52 L248.7,51.22 L248.79,50.45 L248.89,49.67 L248.98,48.9 L249.08,48.12 L249.18,47.34 L249.27,46.57 L249.37,45.79 L249.46,45.02 L249.56,44.24 L249.66,43.46 L249.75,42.69 L249.85,41.91 L249.94,41.14" stroke-width="3.39"/><path d="M255.02,47.63 L255.15,48.42 L255.27,49.21 L255.4,50 L255.56,49.25 L255.72,48.5 L255.89,47.75 L256.05,47 L256.21,46.25 L256.38,45.5 L256.54,44.75 L256.7,44 L256.86,43.25 L257.02,42.5 L257.19,41.75 L257.35,41 L257.51,40.25 L257.68,39.5 L257.84,38.75 L258,38 L258.2,38.71 L258.4,39.43 L258.6,40.14 L258.8,40.86 L259,41.57 L259.2,42.29 L259.4,43 L259.53,43.75 L259.66,44.5 L259.79,45.25 L259.92,46" stroke-width="3.26"/><path d="M265.02,51.38 L265.08,50.62 L265.13,49.85 L265.18,49.08 L265.24,48.31 L265.29,47.54 L265.35,46.77 L265.4,46 L265.52,46.75 L265.65,47.5 L265.77,48.25 L265.9,49 L266.02,49.75 L266.15,50.5 L266.27,51.25 L266.4,52 L266.52,52.75 L266.65,53.5 L266.77,54.25 L266.9,55 L267.02,55.75 L267.15,56.5 L267.27,57.25 L267.4,58 L267.69,57.29 L267.97,56.57 L268.26,55.86 L268.54,55.14 L268.83,54.43 L269.11,53.71 L269.4,53 L269.46,53.76 L269.53,54.52 L269.59,55.27 L269.65,56.03 L269.72,56.79 L269.78,57.55 L269.84,58.31 L269.91,59.06 L269.97,59.82 L270.03,60.58 L270.09,61.34 L270.16,62.09 L270.22,62.85 L270.28,63.61 L270.35,64.37 L270.41,65.13 L270.47,65.88 L270.54,66.64 L270.6,67.4 L270.61,66.61 L270.62,65.82 L270.62,65.03 L270.63,64.23 L270.64,63.44 L270.65,62.65 L270.66,61.86 L270.67,61.07 L270.68,60.28 L270.68,59.48 L270.69,58.69 L270.7,57.9 L270.71,57.11 L270.72,56.32 L270.73,55.53 L270.73,54.73 L270.74,53.94 L270.75,53.15 L270.76,52.36 L270.77,51.57 L270.78,50.78 L270.78,49.98 L270.79,49.19 L270.8,48.4 L270.81,47.61 L270.82,46.82 L270.82,46.03 L270.83,45.23 L270.84,44.44 L270.85,43.65 L270.86,42.86 L270.87,42.07 L270.88,41.28 L270.88,40.48 L270.89,39.69 L270.9,38.9 L270.91,38.11 L270.92,37.32 L270.93,36.52 L270.93,35.73 L270.94,34.94 L270.95,34.15 L270.96,33.36 L270.97,32.57 L270.98,31.77 L270.98,30.98 L270.99,30.19 L271,29.4" stroke-width="3.26"/><path d="M297.2,58.8 L297.6,59.4 L298,60 L298.23,59.33 L298.47,58.67 L298.7,58 L298.93,57.33 L299.17,56.67 L299.4,56 L299.69,56.67 L299.98,57.33 L300.27,58 L300.56,58.67 L300.84,59.33" stroke-width="3.26"/><path d="M337,113 L337.29,113.71 L337.57,114.43 L337.86,115.14 L338.14,115.86 L338.43,116.57 L338.71,117.29 L339,118 L339.52,117.6 L340.04,117.2 L340.56,116.8 L341.08,116.4 L341.6,116 L341.77,116.75 L341.93,117.5" stroke-width="3.26"/><path d="M353,110 L353.23,110.67 L353.47,111.33 L353.7,112 L353.93,112.67 L354.17,113.33 L354.4,114 L354.73,113.33 L355.07,112.67 L355.4,112 L355.73,111.33 L356.07,110.67 L356.4,110 L356.45,109.23 L356.5,108.45 L356.55,107.68 L356.61,106.9 L356.66,106.13 L356.71,105.35 L356.76,104.58 L356.81,103.81 L356.86,103.03 L356.92,102.26 L356.97,101.48" stroke-width="3.26"/><path d="M376.22,124.9 L376.48,125.6 L376.74,126.3 L377,127 L377.29,126.33 L377.58,125.67 L377.87,125 L378.16,124.33 L378.44,123.67 L378.73,123 L379.02,122.33 L379.31,121.67 L379.6,121 L379.77,121.75 L379.93,122.5 L380.1,123.25 L380.27,124 L380.43,124.75 L380.6,125.5 L380.77,126.25 L380.93,127 L381.1,127.75 L381.27,128.5 L381.43,129.25 L381.6,130 L381.78,129.23 L381.97,128.46 L382.15,127.69 L382.34,126.92 L382.52,126.15 L382.71,125.38 L382.89,124.62 L383.08,123.85 L383.26,123.08 L383.45,122.31 L383.63,121.54 L383.82,120.77 L384,120 L384.6,119.5 L385.2,119 L385.8,118.5 L386.4,118 L386.72,118.62 L387.05,119.25 L387.38,119.88 L387.7,120.5 L388.02,121.12 L388.35,121.75 L388.68,122.38 L389,123 L389.29,123.71 L389.57,124.43 L389.86,125.14" stroke-width="3.39"/><path d="M404,111 L404.24,111.7 L404.48,112.4 L404.72,113.1 L404.96,113.8 L405.2,114.5 L405.44,115.2 L405.68,115.9 L405.92,116.6 L406.16,117.3 L406.4,118 L406.6,117.25 L406.8,116.5 L407,115.75 L407.2,115 L407.4,114.25 L407.6,113.5 L407.8,112.75 L408,112 L408.22,112.73 L408.44,113.45 L408.65,114.18 L408.87,114.91 L409.09,115.64 L409.31,116.36 L409.53,117.09 L409.75,117.82 L409.96,118.55" stroke-width="3.78"/><path d="M435,125 L435.5,124.5 L436,124 L436.5,123.5 L437,123 L437.5,122.5 L438,122 L438.33,122.67 L438.67,123.33 L439,124 L439.33,124.67 L439.67,125.33 L440,126 L440.14,125.29 L440.29,124.57 L440.43,123.86 L440.57,123.14 L440.71,122.43 L440.86,121.71 L441,121" stroke-width="3.52"/><path d="M472.05,150.75 L472.38,150.12 L472.7,149.5 L473.02,148.88 L473.35,148.25 L473.68,147.62 L474,147 L474.25,147.75 L474.5,148.5 L474.75,149.25 L475,150 L475.25,150.75 L475.5,151.5 L475.75,152.25 L476,153 L476.25,152.25 L476.5,151.5 L476.75,150.75 L477,150" stroke-width="3.26"/><path d="M514,178 L514.33,177.33 L514.67,176.67 L515,176 L515.33,175.33 L515.67,174.67 L516,174 L516.33,174.67 L516.67,175.33 L517,176 L517.33,176.67 L517.67,177.33 L518,178 L518.33,177.33 L518.67,176.67 L519,176 L519.33,175.33 L519.67,174.67 L520,174 L520.5,174.5 L521,175" stroke-width="3.26"/><path d="M523,177 L523.48,176.4 L523.96,175.8 L524.44,175.2 L524.92,174.6 L525.4,174 L525.8,173.4 L526.2,172.8 L526.6,172.2 L527,171.6 L527.4,171 L527.69,171.71 L527.97,172.43 L528.26,173.14 L528.54,173.86 L528.83,174.57 L529.11,175.29 L529.4,176 L529.8,175.4 L530.2,174.8 L530.6,174.2 L531,173.6 L531.4,173 L531.69,173.71 L531.97,174.43 L532.26,175.14 L532.54,175.86 L532.83,176.57 L533.11,177.29 L533.4,178 L533.67,177.33 L533.93,176.67 L534.2,176 L534.47,175.33 L534.73,174.67 L535,174 L535.4,174.67 L535.8,175.33 L536.2,176 L536.6,176.67 L537,177.33 L537.4,178 L538.05,178.25 L538.7,178.5 L539.35,178.75 L540,179" stroke-width="2.87"/><path d="M560,193 L560.33,192.33 L560.67,191.67 L561,191 L561.3,190.3 L561.6,189.6 L561.9,188.9 L562.2,188.2 L562.5,187.5 L562.8,186.8 L563.1,186.1 L563.4,185.4 L563.7,184.7 L564,184 L564.5,184.5 L565,185 L565.5,185.5 L566,186 L566.33,185.33 L566.67,184.67 L567,184 L567.33,183.33 L567.67,182.67 L568,182 L568.26,182.7 L568.52,183.4 L568.78,184.1 L569.04,184.8 L569.3,185.5 L569.56,186.2 L569.82,186.9 L570.08,187.6 L570.34,188.3 L570.6,189 L571.2,189.25 L571.8,189.5 L572.4,189.75 L573,190 L573.17,189.25 L573.33,188.5 L573.5,187.75 L573.67,187 L573.83,186.25 L574,185.5 L574.17,184.75 L574.33,184 L574.5,183.25 L574.67,182.5 L574.83,181.75 L575,181 L575.2,181.7 L575.4,182.4 L575.6,183.1 L575.8,183.8 L576,184.5 L576.2,185.2 L576.4,185.9 L576.6,186.6 L576.8,187.3 L577,188 L577.33,187.33 L577.67,186.67 L578,186 L578.33,185.33 L578.67,184.67 L579,184 L579.34,183.29 L579.69,182.57 L580.03,181.86 L580.37,181.14 L580.71,180.43 L581.06,179.71 L581.4,179 L581.66,179.7 L581.92,180.4 L582.18,181.1 L582.44,181.8 L582.7,182.5 L582.96,183.2 L583.22,183.9 L583.48,184.6 L583.74,185.3 L584,186 L584.4,186.6 L584.8,187.2 L585.2,187.8 L585.6,188.4 L586,189 L586.15,188.23 L586.31,187.46 L586.46,186.69 L586.62,185.92 L586.77,185.15 L586.92,184.38 L587.08,183.62 L587.23,182.85 L587.38,182.08 L587.54,181.31 L587.69,180.54 L587.85,179.77 L588,179 L588.67,179.33 L589.33,179.67 L590,180" stroke-width="2.87"/><path d="M655,189 L655.18,188.22 L655.36,187.44 L655.53,186.67 L655.71,185.89 L655.89,185.11 L656.07,184.33 L656.24,183.56 L656.42,182.78 L656.6,182 L657.2,182.5 L657.8,183 L658.4,183.5 L659,184 L659.33,184.67 L659.67,185.33 L660,186 L660.33,186.67 L660.67,187.33 L661,188 L661.5,187.5 L662,187 L662.5,186.5 L663,186 L663.33,186.67 L663.67,187.33 L664,188 L664.33,188.67 L664.67,189.33 L665,190 L665.25,189.25 L665.5,188.5 L665.75,187.75 L666,187 L666.25,186.25 L666.5,185.5 L666.75,184.75 L667,184 L667.4,184.67 L667.8,185.33 L668.2,186 L668.6,186.67 L669,187.33 L669.4,188 L669.8,187.4 L670.2,186.8 L670.6,186.2 L671,185.6 L671.4,185 L671.58,185.73 L671.76,186.45 L671.95,187.18" stroke-width="3.00"/><path d="M686.44,186.8 L686.92,187.4 L687.4,188 L688.05,187.75 L688.7,187.5 L689.35,187.25 L690,187 L690.14,187.79 L690.29,188.57 L690.43,189.36 L690.57,190.14 L690.71,190.93 L690.86,191.71 L691,192.5 L691.14,193.29 L691.29,194.07 L691.43,194.86 L691.57,195.64 L691.71,196.43 L691.86,197.21 L692,198 L692.18,197.27 L692.36,196.55 L692.55,195.82 L692.73,195.09 L692.91,194.36 L693.09,193.64 L693.27,192.91 L693.45,192.18 L693.64,191.45 L693.82,190.73 L694,190 L694.52,190.4 L695.04,190.8 L695.56,191.2 L696.08,191.6 L696.6,192 L697.2,192.5 L697.8,193 L698.4,193.5 L699,194 L699.2,194.7 L699.4,195.4 L699.6,196.1 L699.8,196.8 L700,197.5" stroke-width="3.00"/><path d="M618.44,174.8 L618.96,175.2 L619.48,175.6 L620,176 L620.33,175.38 L620.65,174.75 L620.98,174.12 L621.3,173.5 L621.62,172.88 L621.95,172.25 L622.27,171.62 L622.6,171 L623,171.67 L623.4,172.33 L623.8,173" stroke-width="3.00"/><path d="M632.1,171.5 L632.35,170.75 L632.6,170 L633.1,170.5 L633.6,171 L634.1,171.5 L634.6,172 L635.08,171.48 L635.56,170.96 L636.04,170.44 L636.52,169.92 L637,169.4 L637.29,170.06 L637.57,170.71 L637.86,171.37 L638.14,172.03 L638.43,172.69 L638.71,173.34 L639,174 L639.33,174.67 L639.67,175.33 L640,176" stroke-width="3.00"/></g>
<path d="M94,80 L113,80 L120,82 L130,86 L140,89.5 L150,92.5 L165,97 L180,101 L200,108.6 L220,113 L240,118.6 L260,124.4 L272,127.6 L280,128.6 L300,133 L320,137 L395,164 L470,191.3 L620,246 L707,279.6 L719.6,279.6 L728,283" fill="none" stroke="#d8a82e" stroke-width="1.5" stroke-linejoin="round"/>
<rect x="101" y="345" width="480" height="24" fill="#fff"/>
<g font-family="Liberation Sans, sans-serif" font-size="11.5px" fill="#000" stroke="#000" stroke-width="0.25" filter="url(#gs)"><text x="230.68" y="354.7" textLength="27.79" lengthAdjust="spacingAndGlyphs">West</text><text x="260.87" y="354.7" textLength="37.22" lengthAdjust="spacingAndGlyphs">African</text><text x="301.25" y="354.7" textLength="56.05" lengthAdjust="spacingAndGlyphs">Resources</text><text x="360.85" y="354.7" textLength="39.56" lengthAdjust="spacingAndGlyphs">Limited</text><text x="403.99" y="354.7" textLength="4.55" lengthAdjust="spacingAndGlyphs">-</text><text x="411.21" y="354.7" textLength="70.50" lengthAdjust="spacingAndGlyphs">ILLIQ-MFMEM</text><text x="484.93" y="354.7" textLength="48.02" lengthAdjust="spacingAndGlyphs">Illiquidity</text><text x="197.20" y="366.7" textLength="27.78" lengthAdjust="spacingAndGlyphs">West</text><text x="227.57" y="366.7" textLength="37.20" lengthAdjust="spacingAndGlyphs">African</text><text x="267.74" y="366.7" textLength="56.50" lengthAdjust="spacingAndGlyphs">Resources</text><text x="327.44" y="366.7" textLength="39.60" lengthAdjust="spacingAndGlyphs">Limited</text><text x="370.42" y="366.7" textLength="4.85" lengthAdjust="spacingAndGlyphs">-</text><text x="377.79" y="366.7" textLength="70.40" lengthAdjust="spacingAndGlyphs">ILLIQ-MFMEM</text><text x="451.63" y="366.7" textLength="48.06" lengthAdjust="spacingAndGlyphs">Illiquidity</text><text x="503.55" y="366.7" textLength="30.18" lengthAdjust="spacingAndGlyphs">Trend</text></g>
<rect x="541.5" y="350" width="33" height="1" fill="#e21a30"/>
<rect x="541.5" y="363" width="33" height="1" fill="#d8a82e"/>
</svg>
</body></html>
